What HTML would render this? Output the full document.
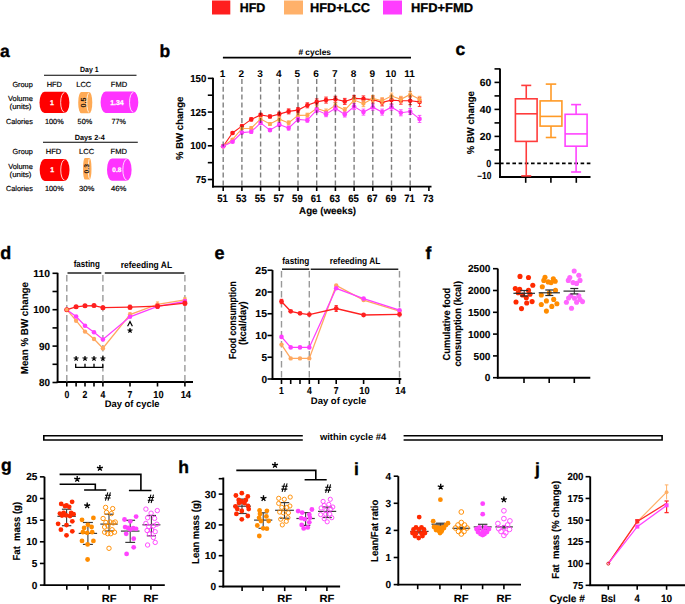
<!DOCTYPE html><html><head><meta charset="utf-8"><style>html,body{margin:0;padding:0;background:#fff;width:685px;height:604px;overflow:hidden}svg{display:block}text{font-family:"Liberation Sans",sans-serif;text-rendering:geometricPrecision}</style></head><body>
<svg width="685" height="604" viewBox="0 0 685 604">
<rect x="212" y="0.5" width="18.3" height="14" fill="#ff1e1e"/>
<text x="239.7" y="12.2" font-size="12.8" font-weight="bold" text-anchor="start" fill="#000" stroke="#000" stroke-width="0.3" textLength="25.6" lengthAdjust="spacingAndGlyphs">HFD</text>
<rect x="284" y="0.5" width="19" height="14" fill="#ffb16a"/>
<text x="310" y="12.2" font-size="12.8" font-weight="bold" text-anchor="start" fill="#000" stroke="#000" stroke-width="0.3" textLength="60" lengthAdjust="spacingAndGlyphs">HFD+LCC</text>
<rect x="383" y="0.5" width="19" height="14" fill="#ff3dff"/>
<text x="411" y="12.2" font-size="12.8" font-weight="bold" text-anchor="start" fill="#000" stroke="#000" stroke-width="0.3" textLength="62" lengthAdjust="spacingAndGlyphs">HFD+FMD</text>
<text x="0" y="57" font-size="17.5" font-weight="bold" text-anchor="start" fill="#000" stroke="#000" stroke-width="0.35">a</text>
<text x="89.3" y="72.4" font-size="7.5" font-weight="bold" text-anchor="middle" fill="#000" textLength="18.6" lengthAdjust="spacingAndGlyphs">Day 1</text>
<line x1="44" y1="75.3" x2="136.5" y2="75.3" stroke="#000" stroke-width="1.1"/>
<text x="32.8" y="86.6" font-size="7.4" font-weight="normal" text-anchor="end" fill="#000" stroke="#000" stroke-width="0.18" textLength="20.4" lengthAdjust="spacingAndGlyphs">Group</text>
<text x="54.3" y="86.6" font-size="7.4" font-weight="normal" text-anchor="middle" fill="#000" stroke="#000" stroke-width="0.18" textLength="15.3" lengthAdjust="spacingAndGlyphs">HFD</text>
<text x="83.8" y="86.6" font-size="7.4" font-weight="normal" text-anchor="middle" fill="#000" stroke="#000" stroke-width="0.18" textLength="15" lengthAdjust="spacingAndGlyphs">LCC</text>
<text x="119" y="86.6" font-size="7.4" font-weight="normal" text-anchor="middle" fill="#000" stroke="#000" stroke-width="0.18" textLength="16.3" lengthAdjust="spacingAndGlyphs">FMD</text>
<text x="32.8" y="100.8" font-size="7.4" font-weight="normal" text-anchor="end" fill="#000" stroke="#000" stroke-width="0.18" textLength="24.8" lengthAdjust="spacingAndGlyphs">Volume</text>
<text x="31.5" y="109.2" font-size="7.4" font-weight="normal" text-anchor="end" fill="#000" stroke="#000" stroke-width="0.18" textLength="22" lengthAdjust="spacingAndGlyphs">(units)</text>
<path d="M44.5,91.8 L64.4,91.8 A5,10.600000000000001 0 0 1 64.4,113 L44.5,113 A5,10.600000000000001 0 0 1 44.5,91.8 Z" fill="#ff0000"/>
<path d="M64.4,92.6 A3.75,9.8 0 0 0 64.4,112.2" stroke="#fff" stroke-width="0.8" fill="none"/>
<text x="51.95" y="104.9" font-size="7" font-weight="bold" text-anchor="middle" fill="#fff" stroke="#fff" stroke-width="0.25">1</text>
<path d="M81.33333333333333,91.9 L89.16666666666667,91.9 A3.133333333333332,10.699999999999996 0 0 1 89.16666666666667,113.3 L81.33333333333333,113.3 A3.133333333333332,10.699999999999996 0 0 1 81.33333333333333,91.9 Z" fill="#ffaa55"/>
<path d="M89.16666666666667,92.7 A2.3499999999999988,9.899999999999995 0 0 0 89.16666666666667,112.5" stroke="#fff" stroke-width="0.8" fill="none"/>
<text x="86.28333333333333" y="102.6" font-size="7.5" font-weight="bold" text-anchor="middle" fill="#111" textLength="10" lengthAdjust="spacingAndGlyphs" transform="rotate(-90 86.28333333333333 102.6)">0.5</text>
<path d="M105.6,91.6 L133.3,91.6 A5,10.700000000000003 0 0 1 133.3,113 L105.6,113 A5,10.700000000000003 0 0 1 105.6,91.6 Z" fill="#ff33ff"/>
<path d="M133.3,92.39999999999999 A3.75,9.900000000000002 0 0 0 133.3,112.2" stroke="#fff" stroke-width="0.8" fill="none"/>
<text x="116.95" y="104.8" font-size="7" font-weight="bold" text-anchor="middle" fill="#fff" stroke="#fff" stroke-width="0.25">1.34</text>
<text x="32.8" y="124" font-size="7.4" font-weight="normal" text-anchor="end" fill="#000" stroke="#000" stroke-width="0.18" textLength="26.8" lengthAdjust="spacingAndGlyphs">Calories</text>
<text x="54.3" y="124" font-size="7.4" font-weight="normal" text-anchor="middle" fill="#000" stroke="#000" stroke-width="0.18" textLength="18.6" lengthAdjust="spacingAndGlyphs">100%</text>
<text x="84.9" y="124" font-size="7.4" font-weight="normal" text-anchor="middle" fill="#000" stroke="#000" stroke-width="0.18" textLength="14.6" lengthAdjust="spacingAndGlyphs">50%</text>
<text x="118.6" y="124" font-size="7.4" font-weight="normal" text-anchor="middle" fill="#000" stroke="#000" stroke-width="0.18" textLength="14.3" lengthAdjust="spacingAndGlyphs">77%</text>
<text x="89.7" y="139.7" font-size="7.5" font-weight="bold" text-anchor="middle" fill="#000" textLength="30" lengthAdjust="spacingAndGlyphs">Days 2-4</text>
<line x1="43" y1="142.2" x2="137.8" y2="142.2" stroke="#000" stroke-width="1.1"/>
<text x="32.8" y="153.7" font-size="7.4" font-weight="normal" text-anchor="end" fill="#000" stroke="#000" stroke-width="0.18" textLength="20.2" lengthAdjust="spacingAndGlyphs">Group</text>
<text x="53.5" y="153.7" font-size="7.4" font-weight="normal" text-anchor="middle" fill="#000" stroke="#000" stroke-width="0.18" textLength="15.5" lengthAdjust="spacingAndGlyphs">HFD</text>
<text x="86.6" y="153.7" font-size="7.4" font-weight="normal" text-anchor="middle" fill="#000" stroke="#000" stroke-width="0.18" textLength="15.2" lengthAdjust="spacingAndGlyphs">LCC</text>
<text x="118.8" y="153.7" font-size="7.4" font-weight="normal" text-anchor="middle" fill="#000" stroke="#000" stroke-width="0.18" textLength="16.4" lengthAdjust="spacingAndGlyphs">FMD</text>
<text x="32.8" y="168.5" font-size="7.4" font-weight="normal" text-anchor="end" fill="#000" stroke="#000" stroke-width="0.18" textLength="24.6" lengthAdjust="spacingAndGlyphs">Volume</text>
<text x="31.5" y="176.5" font-size="7.4" font-weight="normal" text-anchor="end" fill="#000" stroke="#000" stroke-width="0.18" textLength="22" lengthAdjust="spacingAndGlyphs">(units)</text>
<path d="M44.7,159 L64.5,159 A5,10.950000000000003 0 0 1 64.5,180.9 L44.7,180.9 A5,10.950000000000003 0 0 1 44.7,159 Z" fill="#ff0000"/>
<path d="M64.5,159.8 A3.75,10.150000000000002 0 0 0 64.5,180.1" stroke="#fff" stroke-width="0.8" fill="none"/>
<text x="52.1" y="172.45" font-size="7" font-weight="bold" text-anchor="middle" fill="#fff" stroke="#fff" stroke-width="0.25">1</text>
<path d="M84.88888888888889,157.9 L89.61111111111111,157.9 A1.8888888888888888,10.799999999999997 0 0 1 89.61111111111111,179.5 L84.88888888888889,179.5 A1.8888888888888888,10.799999999999997 0 0 1 84.88888888888889,157.9 Z" fill="#ffaa55"/>
<path d="M89.61111111111111,158.70000000000002 A1.4166666666666665,9.999999999999996 0 0 0 89.61111111111111,178.7" stroke="#fff" stroke-width="0.8" fill="none"/>
<text x="88.90555555555555" y="168.7" font-size="7" font-weight="bold" text-anchor="middle" fill="#111" textLength="9.5" lengthAdjust="spacingAndGlyphs" transform="rotate(-90 88.90555555555555 168.7)">0.3</text>
<path d="M112,158.5 L126.6,158.5 A5,11.150000000000006 0 0 1 126.6,180.8 L112,180.8 A5,11.150000000000006 0 0 1 112,158.5 Z" fill="#ff33ff"/>
<path d="M126.6,159.3 A3.75,10.350000000000005 0 0 0 126.6,180.0" stroke="#fff" stroke-width="0.8" fill="none"/>
<text x="116.8" y="172.15" font-size="6.5" font-weight="bold" text-anchor="middle" fill="#fff" stroke="#fff" stroke-width="0.25">0.8</text>
<text x="32.8" y="191.4" font-size="7.4" font-weight="normal" text-anchor="end" fill="#000" stroke="#000" stroke-width="0.18" textLength="26.8" lengthAdjust="spacingAndGlyphs">Calories</text>
<text x="54.3" y="191.4" font-size="7.4" font-weight="normal" text-anchor="middle" fill="#000" stroke="#000" stroke-width="0.18" textLength="18.6" lengthAdjust="spacingAndGlyphs">100%</text>
<text x="86.7" y="191.4" font-size="7.4" font-weight="normal" text-anchor="middle" fill="#000" stroke="#000" stroke-width="0.18" textLength="15.4" lengthAdjust="spacingAndGlyphs">30%</text>
<text x="118.7" y="191.4" font-size="7.4" font-weight="normal" text-anchor="middle" fill="#000" stroke="#000" stroke-width="0.18" textLength="15.4" lengthAdjust="spacingAndGlyphs">46%</text>
<text x="159.5" y="57.4" font-size="17.5" font-weight="bold" text-anchor="start" fill="#000" stroke="#000" stroke-width="0.35">b</text>
<line x1="222.9" y1="57.7" x2="411" y2="57.7" stroke="#000" stroke-width="1.8"/>
<text x="298.4" y="54.6" font-size="8.5" font-weight="bold" text-anchor="start" fill="#000" textLength="32.6" lengthAdjust="spacingAndGlyphs"># cycles</text>
<text x="222.6" y="76.8" font-size="9.8" font-weight="bold" text-anchor="middle" fill="#000" textLength="5.6" lengthAdjust="spacingAndGlyphs">1</text>
<text x="241.29999999999998" y="76.8" font-size="9.8" font-weight="bold" text-anchor="middle" fill="#000" textLength="5.6" lengthAdjust="spacingAndGlyphs">2</text>
<text x="259.99999999999994" y="76.8" font-size="9.8" font-weight="bold" text-anchor="middle" fill="#000" textLength="5.6" lengthAdjust="spacingAndGlyphs">3</text>
<text x="278.69999999999993" y="76.8" font-size="9.8" font-weight="bold" text-anchor="middle" fill="#000" textLength="5.6" lengthAdjust="spacingAndGlyphs">4</text>
<text x="297.4" y="76.8" font-size="9.8" font-weight="bold" text-anchor="middle" fill="#000" textLength="5.6" lengthAdjust="spacingAndGlyphs">5</text>
<text x="316.09999999999997" y="76.8" font-size="9.8" font-weight="bold" text-anchor="middle" fill="#000" textLength="5.6" lengthAdjust="spacingAndGlyphs">6</text>
<text x="334.79999999999995" y="76.8" font-size="9.8" font-weight="bold" text-anchor="middle" fill="#000" textLength="5.6" lengthAdjust="spacingAndGlyphs">7</text>
<text x="353.5" y="76.8" font-size="9.8" font-weight="bold" text-anchor="middle" fill="#000" textLength="5.6" lengthAdjust="spacingAndGlyphs">8</text>
<text x="372.19999999999993" y="76.8" font-size="9.8" font-weight="bold" text-anchor="middle" fill="#000" textLength="5.6" lengthAdjust="spacingAndGlyphs">9</text>
<text x="390.9" y="76.8" font-size="9.8" font-weight="bold" text-anchor="middle" fill="#000" textLength="10.6" lengthAdjust="spacingAndGlyphs">10</text>
<text x="409.59999999999997" y="76.8" font-size="9.8" font-weight="bold" text-anchor="middle" fill="#000" textLength="10.6" lengthAdjust="spacingAndGlyphs">11</text>
<line x1="213" y1="77.8" x2="213" y2="187.4" stroke="#000" stroke-width="1.9"/>
<line x1="212" y1="186.6" x2="431.5" y2="186.6" stroke="#000" stroke-width="1.9"/>
<line x1="207.8" y1="78.35000000000001" x2="213" y2="78.35000000000001" stroke="#000" stroke-width="1.6"/>
<text x="206.3" y="81.95" font-size="10.2" font-weight="bold" text-anchor="end" fill="#000" stroke="#000" stroke-width="0.12" textLength="16.1" lengthAdjust="spacingAndGlyphs">150</text>
<line x1="207.8" y1="112.07500000000002" x2="213" y2="112.07500000000002" stroke="#000" stroke-width="1.6"/>
<text x="206.3" y="115.67500000000001" font-size="10.2" font-weight="bold" text-anchor="end" fill="#000" stroke="#000" stroke-width="0.12" textLength="16.1" lengthAdjust="spacingAndGlyphs">125</text>
<line x1="207.8" y1="145.8" x2="213" y2="145.8" stroke="#000" stroke-width="1.6"/>
<text x="206.3" y="149.4" font-size="10.2" font-weight="bold" text-anchor="end" fill="#000" stroke="#000" stroke-width="0.12" textLength="16.1" lengthAdjust="spacingAndGlyphs">100</text>
<line x1="207.8" y1="179.525" x2="213" y2="179.525" stroke="#000" stroke-width="1.6"/>
<text x="206.3" y="183.125" font-size="10.2" font-weight="bold" text-anchor="end" fill="#000" stroke="#000" stroke-width="0.12" textLength="10.6" lengthAdjust="spacingAndGlyphs">75</text>
<line x1="207.8" y1="95.2125" x2="213" y2="95.2125" stroke="#000" stroke-width="1.6"/>
<line x1="207.8" y1="128.9375" x2="213" y2="128.9375" stroke="#000" stroke-width="1.6"/>
<line x1="207.8" y1="162.66250000000002" x2="213" y2="162.66250000000002" stroke="#000" stroke-width="1.6"/>
<line x1="223.2" y1="186.6" x2="223.2" y2="191" stroke="#000" stroke-width="1.6"/>
<text x="222.6" y="202.3" font-size="10.4" font-weight="bold" text-anchor="middle" fill="#000" stroke="#000" stroke-width="0.12" textLength="10.6" lengthAdjust="spacingAndGlyphs">51</text>
<line x1="241.89999999999998" y1="186.6" x2="241.89999999999998" y2="191" stroke="#000" stroke-width="1.6"/>
<text x="241.29999999999998" y="202.3" font-size="10.4" font-weight="bold" text-anchor="middle" fill="#000" stroke="#000" stroke-width="0.12" textLength="10.6" lengthAdjust="spacingAndGlyphs">53</text>
<line x1="260.59999999999997" y1="186.6" x2="260.59999999999997" y2="191" stroke="#000" stroke-width="1.6"/>
<text x="259.99999999999994" y="202.3" font-size="10.4" font-weight="bold" text-anchor="middle" fill="#000" stroke="#000" stroke-width="0.12" textLength="10.6" lengthAdjust="spacingAndGlyphs">55</text>
<line x1="279.29999999999995" y1="186.6" x2="279.29999999999995" y2="191" stroke="#000" stroke-width="1.6"/>
<text x="278.69999999999993" y="202.3" font-size="10.4" font-weight="bold" text-anchor="middle" fill="#000" stroke="#000" stroke-width="0.12" textLength="10.6" lengthAdjust="spacingAndGlyphs">57</text>
<line x1="298.0" y1="186.6" x2="298.0" y2="191" stroke="#000" stroke-width="1.6"/>
<text x="297.4" y="202.3" font-size="10.4" font-weight="bold" text-anchor="middle" fill="#000" stroke="#000" stroke-width="0.12" textLength="10.6" lengthAdjust="spacingAndGlyphs">59</text>
<line x1="316.7" y1="186.6" x2="316.7" y2="191" stroke="#000" stroke-width="1.6"/>
<text x="316.09999999999997" y="202.3" font-size="10.4" font-weight="bold" text-anchor="middle" fill="#000" stroke="#000" stroke-width="0.12" textLength="10.6" lengthAdjust="spacingAndGlyphs">61</text>
<line x1="335.4" y1="186.6" x2="335.4" y2="191" stroke="#000" stroke-width="1.6"/>
<text x="334.79999999999995" y="202.3" font-size="10.4" font-weight="bold" text-anchor="middle" fill="#000" stroke="#000" stroke-width="0.12" textLength="10.6" lengthAdjust="spacingAndGlyphs">63</text>
<line x1="354.1" y1="186.6" x2="354.1" y2="191" stroke="#000" stroke-width="1.6"/>
<text x="353.5" y="202.3" font-size="10.4" font-weight="bold" text-anchor="middle" fill="#000" stroke="#000" stroke-width="0.12" textLength="10.6" lengthAdjust="spacingAndGlyphs">65</text>
<line x1="372.79999999999995" y1="186.6" x2="372.79999999999995" y2="191" stroke="#000" stroke-width="1.6"/>
<text x="372.19999999999993" y="202.3" font-size="10.4" font-weight="bold" text-anchor="middle" fill="#000" stroke="#000" stroke-width="0.12" textLength="10.6" lengthAdjust="spacingAndGlyphs">67</text>
<line x1="391.5" y1="186.6" x2="391.5" y2="191" stroke="#000" stroke-width="1.6"/>
<text x="390.9" y="202.3" font-size="10.4" font-weight="bold" text-anchor="middle" fill="#000" stroke="#000" stroke-width="0.12" textLength="10.6" lengthAdjust="spacingAndGlyphs">69</text>
<line x1="410.2" y1="186.6" x2="410.2" y2="191" stroke="#000" stroke-width="1.6"/>
<text x="409.59999999999997" y="202.3" font-size="10.4" font-weight="bold" text-anchor="middle" fill="#000" stroke="#000" stroke-width="0.12" textLength="10.6" lengthAdjust="spacingAndGlyphs">71</text>
<line x1="428.9" y1="186.6" x2="428.9" y2="191" stroke="#000" stroke-width="1.6"/>
<text x="428.29999999999995" y="202.3" font-size="10.4" font-weight="bold" text-anchor="middle" fill="#000" stroke="#000" stroke-width="0.12" textLength="10.6" lengthAdjust="spacingAndGlyphs">73</text>
<text x="327.6" y="214.3" font-size="10" font-weight="bold" text-anchor="middle" fill="#000" stroke="#000" stroke-width="0.12" textLength="57" lengthAdjust="spacingAndGlyphs">Age (weeks)</text>
<text x="183" y="128.3" font-size="10" font-weight="bold" text-anchor="middle" fill="#000" stroke="#000" stroke-width="0.12" textLength="63.4" lengthAdjust="spacingAndGlyphs" transform="rotate(-90 183 128.3)">% BW change</text>
<polyline points="223.2,146.2 232.5,133 241.9,126.1 251.2,119.4 260.6,114.9 269.9,116.5 279.3,114.1 288.6,111.4 298.0,110.1 307.3,105.3 316.7,101.9 326.0,100.1 335.4,99.3 344.8,101.4 354.1,98.4 363.4,98.9 372.8,99.6 382.1,102.4 391.5,100.1 400.9,100.7 410.2,100.7 419.5,101.9" fill="none" stroke="#ff1a1a" stroke-width="1.1"/>
<circle cx="223.2" cy="146.2" r="2.3" fill="#ff1a1a" stroke="none" stroke-width="0"/>
<line x1="232.54999999999998" y1="132" x2="232.54999999999998" y2="134" stroke="#ff1a1a" stroke-width="0.9"/>
<line x1="230.74999999999997" y1="132" x2="234.35" y2="132" stroke="#ff1a1a" stroke-width="0.9"/>
<line x1="230.74999999999997" y1="134" x2="234.35" y2="134" stroke="#ff1a1a" stroke-width="0.9"/>
<circle cx="232.54999999999998" cy="133" r="2.3" fill="#ff1a1a" stroke="none" stroke-width="0"/>
<line x1="241.89999999999998" y1="125.1" x2="241.89999999999998" y2="127.1" stroke="#ff1a1a" stroke-width="0.9"/>
<line x1="240.09999999999997" y1="125.1" x2="243.7" y2="125.1" stroke="#ff1a1a" stroke-width="0.9"/>
<line x1="240.09999999999997" y1="127.1" x2="243.7" y2="127.1" stroke="#ff1a1a" stroke-width="0.9"/>
<circle cx="241.89999999999998" cy="126.1" r="2.3" fill="#ff1a1a" stroke="none" stroke-width="0"/>
<line x1="251.25" y1="117.9" x2="251.25" y2="120.9" stroke="#ff1a1a" stroke-width="0.9"/>
<line x1="249.45" y1="117.9" x2="253.05" y2="117.9" stroke="#ff1a1a" stroke-width="0.9"/>
<line x1="249.45" y1="120.9" x2="253.05" y2="120.9" stroke="#ff1a1a" stroke-width="0.9"/>
<circle cx="251.25" cy="119.4" r="2.3" fill="#ff1a1a" stroke="none" stroke-width="0"/>
<line x1="260.59999999999997" y1="113.4" x2="260.59999999999997" y2="116.4" stroke="#ff1a1a" stroke-width="0.9"/>
<line x1="258.79999999999995" y1="113.4" x2="262.4" y2="113.4" stroke="#ff1a1a" stroke-width="0.9"/>
<line x1="258.79999999999995" y1="116.4" x2="262.4" y2="116.4" stroke="#ff1a1a" stroke-width="0.9"/>
<circle cx="260.59999999999997" cy="114.9" r="2.3" fill="#ff1a1a" stroke="none" stroke-width="0"/>
<line x1="269.95" y1="115.0" x2="269.95" y2="118.0" stroke="#ff1a1a" stroke-width="0.9"/>
<line x1="268.15" y1="115.0" x2="271.75" y2="115.0" stroke="#ff1a1a" stroke-width="0.9"/>
<line x1="268.15" y1="118.0" x2="271.75" y2="118.0" stroke="#ff1a1a" stroke-width="0.9"/>
<circle cx="269.95" cy="116.5" r="2.3" fill="#ff1a1a" stroke="none" stroke-width="0"/>
<line x1="279.29999999999995" y1="112.1" x2="279.29999999999995" y2="116.1" stroke="#ff1a1a" stroke-width="0.9"/>
<line x1="277.49999999999994" y1="112.1" x2="281.09999999999997" y2="112.1" stroke="#ff1a1a" stroke-width="0.9"/>
<line x1="277.49999999999994" y1="116.1" x2="281.09999999999997" y2="116.1" stroke="#ff1a1a" stroke-width="0.9"/>
<circle cx="279.29999999999995" cy="114.1" r="2.3" fill="#ff1a1a" stroke="none" stroke-width="0"/>
<line x1="288.65" y1="108.9" x2="288.65" y2="113.9" stroke="#ff1a1a" stroke-width="0.9"/>
<line x1="286.84999999999997" y1="108.9" x2="290.45" y2="108.9" stroke="#ff1a1a" stroke-width="0.9"/>
<line x1="286.84999999999997" y1="113.9" x2="290.45" y2="113.9" stroke="#ff1a1a" stroke-width="0.9"/>
<circle cx="288.65" cy="111.4" r="2.3" fill="#ff1a1a" stroke="none" stroke-width="0"/>
<line x1="298.0" y1="107.6" x2="298.0" y2="112.6" stroke="#ff1a1a" stroke-width="0.9"/>
<line x1="296.2" y1="107.6" x2="299.8" y2="107.6" stroke="#ff1a1a" stroke-width="0.9"/>
<line x1="296.2" y1="112.6" x2="299.8" y2="112.6" stroke="#ff1a1a" stroke-width="0.9"/>
<circle cx="298.0" cy="110.1" r="2.3" fill="#ff1a1a" stroke="none" stroke-width="0"/>
<line x1="307.34999999999997" y1="102.8" x2="307.34999999999997" y2="107.8" stroke="#ff1a1a" stroke-width="0.9"/>
<line x1="305.54999999999995" y1="102.8" x2="309.15" y2="102.8" stroke="#ff1a1a" stroke-width="0.9"/>
<line x1="305.54999999999995" y1="107.8" x2="309.15" y2="107.8" stroke="#ff1a1a" stroke-width="0.9"/>
<circle cx="307.34999999999997" cy="105.3" r="2.3" fill="#ff1a1a" stroke="none" stroke-width="0"/>
<line x1="316.7" y1="98.9" x2="316.7" y2="104.9" stroke="#ff1a1a" stroke-width="0.9"/>
<line x1="314.9" y1="98.9" x2="318.5" y2="98.9" stroke="#ff1a1a" stroke-width="0.9"/>
<line x1="314.9" y1="104.9" x2="318.5" y2="104.9" stroke="#ff1a1a" stroke-width="0.9"/>
<circle cx="316.7" cy="101.9" r="2.3" fill="#ff1a1a" stroke="none" stroke-width="0"/>
<line x1="326.04999999999995" y1="97.1" x2="326.04999999999995" y2="103.1" stroke="#ff1a1a" stroke-width="0.9"/>
<line x1="324.24999999999994" y1="97.1" x2="327.84999999999997" y2="97.1" stroke="#ff1a1a" stroke-width="0.9"/>
<line x1="324.24999999999994" y1="103.1" x2="327.84999999999997" y2="103.1" stroke="#ff1a1a" stroke-width="0.9"/>
<circle cx="326.04999999999995" cy="100.1" r="2.3" fill="#ff1a1a" stroke="none" stroke-width="0"/>
<line x1="335.4" y1="96.3" x2="335.4" y2="102.3" stroke="#ff1a1a" stroke-width="0.9"/>
<line x1="333.59999999999997" y1="96.3" x2="337.2" y2="96.3" stroke="#ff1a1a" stroke-width="0.9"/>
<line x1="333.59999999999997" y1="102.3" x2="337.2" y2="102.3" stroke="#ff1a1a" stroke-width="0.9"/>
<circle cx="335.4" cy="99.3" r="2.3" fill="#ff1a1a" stroke="none" stroke-width="0"/>
<line x1="344.75" y1="98.4" x2="344.75" y2="104.4" stroke="#ff1a1a" stroke-width="0.9"/>
<line x1="342.95" y1="98.4" x2="346.55" y2="98.4" stroke="#ff1a1a" stroke-width="0.9"/>
<line x1="342.95" y1="104.4" x2="346.55" y2="104.4" stroke="#ff1a1a" stroke-width="0.9"/>
<circle cx="344.75" cy="101.4" r="2.3" fill="#ff1a1a" stroke="none" stroke-width="0"/>
<line x1="354.1" y1="95.4" x2="354.1" y2="101.4" stroke="#ff1a1a" stroke-width="0.9"/>
<line x1="352.3" y1="95.4" x2="355.90000000000003" y2="95.4" stroke="#ff1a1a" stroke-width="0.9"/>
<line x1="352.3" y1="101.4" x2="355.90000000000003" y2="101.4" stroke="#ff1a1a" stroke-width="0.9"/>
<circle cx="354.1" cy="98.4" r="2.3" fill="#ff1a1a" stroke="none" stroke-width="0"/>
<line x1="363.45" y1="95.9" x2="363.45" y2="101.9" stroke="#ff1a1a" stroke-width="0.9"/>
<line x1="361.65" y1="95.9" x2="365.25" y2="95.9" stroke="#ff1a1a" stroke-width="0.9"/>
<line x1="361.65" y1="101.9" x2="365.25" y2="101.9" stroke="#ff1a1a" stroke-width="0.9"/>
<circle cx="363.45" cy="98.9" r="2.3" fill="#ff1a1a" stroke="none" stroke-width="0"/>
<line x1="372.79999999999995" y1="96.1" x2="372.79999999999995" y2="103.1" stroke="#ff1a1a" stroke-width="0.9"/>
<line x1="370.99999999999994" y1="96.1" x2="374.59999999999997" y2="96.1" stroke="#ff1a1a" stroke-width="0.9"/>
<line x1="370.99999999999994" y1="103.1" x2="374.59999999999997" y2="103.1" stroke="#ff1a1a" stroke-width="0.9"/>
<circle cx="372.79999999999995" cy="99.6" r="2.3" fill="#ff1a1a" stroke="none" stroke-width="0"/>
<line x1="382.15" y1="98.9" x2="382.15" y2="105.9" stroke="#ff1a1a" stroke-width="0.9"/>
<line x1="380.34999999999997" y1="98.9" x2="383.95" y2="98.9" stroke="#ff1a1a" stroke-width="0.9"/>
<line x1="380.34999999999997" y1="105.9" x2="383.95" y2="105.9" stroke="#ff1a1a" stroke-width="0.9"/>
<circle cx="382.15" cy="102.4" r="2.3" fill="#ff1a1a" stroke="none" stroke-width="0"/>
<line x1="391.5" y1="96.1" x2="391.5" y2="104.1" stroke="#ff1a1a" stroke-width="0.9"/>
<line x1="389.7" y1="96.1" x2="393.3" y2="96.1" stroke="#ff1a1a" stroke-width="0.9"/>
<line x1="389.7" y1="104.1" x2="393.3" y2="104.1" stroke="#ff1a1a" stroke-width="0.9"/>
<circle cx="391.5" cy="100.1" r="2.3" fill="#ff1a1a" stroke="none" stroke-width="0"/>
<line x1="400.85" y1="97.2" x2="400.85" y2="104.2" stroke="#ff1a1a" stroke-width="0.9"/>
<line x1="399.05" y1="97.2" x2="402.65000000000003" y2="97.2" stroke="#ff1a1a" stroke-width="0.9"/>
<line x1="399.05" y1="104.2" x2="402.65000000000003" y2="104.2" stroke="#ff1a1a" stroke-width="0.9"/>
<circle cx="400.85" cy="100.7" r="2.3" fill="#ff1a1a" stroke="none" stroke-width="0"/>
<line x1="410.2" y1="96.7" x2="410.2" y2="104.7" stroke="#ff1a1a" stroke-width="0.9"/>
<line x1="408.4" y1="96.7" x2="412.0" y2="96.7" stroke="#ff1a1a" stroke-width="0.9"/>
<line x1="408.4" y1="104.7" x2="412.0" y2="104.7" stroke="#ff1a1a" stroke-width="0.9"/>
<circle cx="410.2" cy="100.7" r="2.3" fill="#ff1a1a" stroke="none" stroke-width="0"/>
<line x1="419.54999999999995" y1="97.4" x2="419.54999999999995" y2="106.4" stroke="#ff1a1a" stroke-width="0.9"/>
<line x1="417.74999999999994" y1="97.4" x2="421.34999999999997" y2="97.4" stroke="#ff1a1a" stroke-width="0.9"/>
<line x1="417.74999999999994" y1="106.4" x2="421.34999999999997" y2="106.4" stroke="#ff1a1a" stroke-width="0.9"/>
<circle cx="419.54999999999995" cy="101.9" r="2.3" fill="#ff1a1a" stroke="none" stroke-width="0"/>
<polyline points="223.2,146.2 232.5,139.5 241.9,128.5 251.2,128.2 260.6,118.9 269.9,124 279.3,119.2 288.6,122.9 298.0,115.4 307.3,115.2 316.7,108.4 326.0,111.5 335.4,105.4 344.8,110.1 354.1,100.1 363.4,103.7 372.8,98.4 382.1,100.7 391.5,96.1 400.9,99.3 410.2,94.4 419.5,99.3" fill="none" stroke="#ffa650" stroke-width="1.1"/>
<circle cx="223.2" cy="146.2" r="2.1" fill="#ffa650" stroke="none" stroke-width="0"/>
<line x1="232.54999999999998" y1="138.5" x2="232.54999999999998" y2="140.5" stroke="#ffa650" stroke-width="0.9"/>
<line x1="230.74999999999997" y1="138.5" x2="234.35" y2="138.5" stroke="#ffa650" stroke-width="0.9"/>
<line x1="230.74999999999997" y1="140.5" x2="234.35" y2="140.5" stroke="#ffa650" stroke-width="0.9"/>
<circle cx="232.54999999999998" cy="139.5" r="2.1" fill="#ffa650" stroke="none" stroke-width="0"/>
<line x1="241.89999999999998" y1="127.5" x2="241.89999999999998" y2="129.5" stroke="#ffa650" stroke-width="0.9"/>
<line x1="240.09999999999997" y1="127.5" x2="243.7" y2="127.5" stroke="#ffa650" stroke-width="0.9"/>
<line x1="240.09999999999997" y1="129.5" x2="243.7" y2="129.5" stroke="#ffa650" stroke-width="0.9"/>
<circle cx="241.89999999999998" cy="128.5" r="2.1" fill="#ffa650" stroke="none" stroke-width="0"/>
<line x1="251.25" y1="126.69999999999999" x2="251.25" y2="129.7" stroke="#ffa650" stroke-width="0.9"/>
<line x1="249.45" y1="126.69999999999999" x2="253.05" y2="126.69999999999999" stroke="#ffa650" stroke-width="0.9"/>
<line x1="249.45" y1="129.7" x2="253.05" y2="129.7" stroke="#ffa650" stroke-width="0.9"/>
<circle cx="251.25" cy="128.2" r="2.1" fill="#ffa650" stroke="none" stroke-width="0"/>
<line x1="260.59999999999997" y1="117.4" x2="260.59999999999997" y2="120.4" stroke="#ffa650" stroke-width="0.9"/>
<line x1="258.79999999999995" y1="117.4" x2="262.4" y2="117.4" stroke="#ffa650" stroke-width="0.9"/>
<line x1="258.79999999999995" y1="120.4" x2="262.4" y2="120.4" stroke="#ffa650" stroke-width="0.9"/>
<circle cx="260.59999999999997" cy="118.9" r="2.1" fill="#ffa650" stroke="none" stroke-width="0"/>
<line x1="269.95" y1="122.5" x2="269.95" y2="125.5" stroke="#ffa650" stroke-width="0.9"/>
<line x1="268.15" y1="122.5" x2="271.75" y2="122.5" stroke="#ffa650" stroke-width="0.9"/>
<line x1="268.15" y1="125.5" x2="271.75" y2="125.5" stroke="#ffa650" stroke-width="0.9"/>
<circle cx="269.95" cy="124" r="2.1" fill="#ffa650" stroke="none" stroke-width="0"/>
<line x1="279.29999999999995" y1="117.2" x2="279.29999999999995" y2="121.2" stroke="#ffa650" stroke-width="0.9"/>
<line x1="277.49999999999994" y1="117.2" x2="281.09999999999997" y2="117.2" stroke="#ffa650" stroke-width="0.9"/>
<line x1="277.49999999999994" y1="121.2" x2="281.09999999999997" y2="121.2" stroke="#ffa650" stroke-width="0.9"/>
<circle cx="279.29999999999995" cy="119.2" r="2.1" fill="#ffa650" stroke="none" stroke-width="0"/>
<line x1="288.65" y1="120.9" x2="288.65" y2="124.9" stroke="#ffa650" stroke-width="0.9"/>
<line x1="286.84999999999997" y1="120.9" x2="290.45" y2="120.9" stroke="#ffa650" stroke-width="0.9"/>
<line x1="286.84999999999997" y1="124.9" x2="290.45" y2="124.9" stroke="#ffa650" stroke-width="0.9"/>
<circle cx="288.65" cy="122.9" r="2.1" fill="#ffa650" stroke="none" stroke-width="0"/>
<line x1="298.0" y1="113.4" x2="298.0" y2="117.4" stroke="#ffa650" stroke-width="0.9"/>
<line x1="296.2" y1="113.4" x2="299.8" y2="113.4" stroke="#ffa650" stroke-width="0.9"/>
<line x1="296.2" y1="117.4" x2="299.8" y2="117.4" stroke="#ffa650" stroke-width="0.9"/>
<circle cx="298.0" cy="115.4" r="2.1" fill="#ffa650" stroke="none" stroke-width="0"/>
<line x1="307.34999999999997" y1="113.2" x2="307.34999999999997" y2="117.2" stroke="#ffa650" stroke-width="0.9"/>
<line x1="305.54999999999995" y1="113.2" x2="309.15" y2="113.2" stroke="#ffa650" stroke-width="0.9"/>
<line x1="305.54999999999995" y1="117.2" x2="309.15" y2="117.2" stroke="#ffa650" stroke-width="0.9"/>
<circle cx="307.34999999999997" cy="115.2" r="2.1" fill="#ffa650" stroke="none" stroke-width="0"/>
<line x1="316.7" y1="105.9" x2="316.7" y2="110.9" stroke="#ffa650" stroke-width="0.9"/>
<line x1="314.9" y1="105.9" x2="318.5" y2="105.9" stroke="#ffa650" stroke-width="0.9"/>
<line x1="314.9" y1="110.9" x2="318.5" y2="110.9" stroke="#ffa650" stroke-width="0.9"/>
<circle cx="316.7" cy="108.4" r="2.1" fill="#ffa650" stroke="none" stroke-width="0"/>
<line x1="326.04999999999995" y1="109.0" x2="326.04999999999995" y2="114.0" stroke="#ffa650" stroke-width="0.9"/>
<line x1="324.24999999999994" y1="109.0" x2="327.84999999999997" y2="109.0" stroke="#ffa650" stroke-width="0.9"/>
<line x1="324.24999999999994" y1="114.0" x2="327.84999999999997" y2="114.0" stroke="#ffa650" stroke-width="0.9"/>
<circle cx="326.04999999999995" cy="111.5" r="2.1" fill="#ffa650" stroke="none" stroke-width="0"/>
<line x1="335.4" y1="102.9" x2="335.4" y2="107.9" stroke="#ffa650" stroke-width="0.9"/>
<line x1="333.59999999999997" y1="102.9" x2="337.2" y2="102.9" stroke="#ffa650" stroke-width="0.9"/>
<line x1="333.59999999999997" y1="107.9" x2="337.2" y2="107.9" stroke="#ffa650" stroke-width="0.9"/>
<circle cx="335.4" cy="105.4" r="2.1" fill="#ffa650" stroke="none" stroke-width="0"/>
<line x1="344.75" y1="107.6" x2="344.75" y2="112.6" stroke="#ffa650" stroke-width="0.9"/>
<line x1="342.95" y1="107.6" x2="346.55" y2="107.6" stroke="#ffa650" stroke-width="0.9"/>
<line x1="342.95" y1="112.6" x2="346.55" y2="112.6" stroke="#ffa650" stroke-width="0.9"/>
<circle cx="344.75" cy="110.1" r="2.1" fill="#ffa650" stroke="none" stroke-width="0"/>
<line x1="354.1" y1="97.1" x2="354.1" y2="103.1" stroke="#ffa650" stroke-width="0.9"/>
<line x1="352.3" y1="97.1" x2="355.90000000000003" y2="97.1" stroke="#ffa650" stroke-width="0.9"/>
<line x1="352.3" y1="103.1" x2="355.90000000000003" y2="103.1" stroke="#ffa650" stroke-width="0.9"/>
<circle cx="354.1" cy="100.1" r="2.1" fill="#ffa650" stroke="none" stroke-width="0"/>
<line x1="363.45" y1="100.7" x2="363.45" y2="106.7" stroke="#ffa650" stroke-width="0.9"/>
<line x1="361.65" y1="100.7" x2="365.25" y2="100.7" stroke="#ffa650" stroke-width="0.9"/>
<line x1="361.65" y1="106.7" x2="365.25" y2="106.7" stroke="#ffa650" stroke-width="0.9"/>
<circle cx="363.45" cy="103.7" r="2.1" fill="#ffa650" stroke="none" stroke-width="0"/>
<line x1="372.79999999999995" y1="95.4" x2="372.79999999999995" y2="101.4" stroke="#ffa650" stroke-width="0.9"/>
<line x1="370.99999999999994" y1="95.4" x2="374.59999999999997" y2="95.4" stroke="#ffa650" stroke-width="0.9"/>
<line x1="370.99999999999994" y1="101.4" x2="374.59999999999997" y2="101.4" stroke="#ffa650" stroke-width="0.9"/>
<circle cx="372.79999999999995" cy="98.4" r="2.1" fill="#ffa650" stroke="none" stroke-width="0"/>
<line x1="382.15" y1="97.7" x2="382.15" y2="103.7" stroke="#ffa650" stroke-width="0.9"/>
<line x1="380.34999999999997" y1="97.7" x2="383.95" y2="97.7" stroke="#ffa650" stroke-width="0.9"/>
<line x1="380.34999999999997" y1="103.7" x2="383.95" y2="103.7" stroke="#ffa650" stroke-width="0.9"/>
<circle cx="382.15" cy="100.7" r="2.1" fill="#ffa650" stroke="none" stroke-width="0"/>
<line x1="391.5" y1="93.1" x2="391.5" y2="99.1" stroke="#ffa650" stroke-width="0.9"/>
<line x1="389.7" y1="93.1" x2="393.3" y2="93.1" stroke="#ffa650" stroke-width="0.9"/>
<line x1="389.7" y1="99.1" x2="393.3" y2="99.1" stroke="#ffa650" stroke-width="0.9"/>
<circle cx="391.5" cy="96.1" r="2.1" fill="#ffa650" stroke="none" stroke-width="0"/>
<line x1="400.85" y1="96.3" x2="400.85" y2="102.3" stroke="#ffa650" stroke-width="0.9"/>
<line x1="399.05" y1="96.3" x2="402.65000000000003" y2="96.3" stroke="#ffa650" stroke-width="0.9"/>
<line x1="399.05" y1="102.3" x2="402.65000000000003" y2="102.3" stroke="#ffa650" stroke-width="0.9"/>
<circle cx="400.85" cy="99.3" r="2.1" fill="#ffa650" stroke="none" stroke-width="0"/>
<line x1="410.2" y1="91.4" x2="410.2" y2="97.4" stroke="#ffa650" stroke-width="0.9"/>
<line x1="408.4" y1="91.4" x2="412.0" y2="91.4" stroke="#ffa650" stroke-width="0.9"/>
<line x1="408.4" y1="97.4" x2="412.0" y2="97.4" stroke="#ffa650" stroke-width="0.9"/>
<circle cx="410.2" cy="94.4" r="2.1" fill="#ffa650" stroke="none" stroke-width="0"/>
<line x1="419.54999999999995" y1="96.3" x2="419.54999999999995" y2="102.3" stroke="#ffa650" stroke-width="0.9"/>
<line x1="417.74999999999994" y1="96.3" x2="421.34999999999997" y2="96.3" stroke="#ffa650" stroke-width="0.9"/>
<line x1="417.74999999999994" y1="102.3" x2="421.34999999999997" y2="102.3" stroke="#ffa650" stroke-width="0.9"/>
<circle cx="419.54999999999995" cy="99.3" r="2.1" fill="#ffa650" stroke="none" stroke-width="0"/>
<polyline points="223.2,146.2 232.5,141.7 241.9,132.6 251.2,131.8 260.6,122.9 269.9,130.1 279.3,124.5 288.6,128.1 298.0,119.4 307.3,120.2 316.7,110.1 326.0,114.2 335.4,108.4 344.8,114.5 354.1,106.6 363.4,112.1 372.8,107.2 382.1,112.1 391.5,107.2 400.9,112.8 410.2,111.5 419.5,118.9" fill="none" stroke="#ff3dff" stroke-width="1.1"/>
<circle cx="223.2" cy="146.2" r="2.3" fill="#ff3dff" stroke="none" stroke-width="0"/>
<line x1="232.54999999999998" y1="140.7" x2="232.54999999999998" y2="142.7" stroke="#ff3dff" stroke-width="0.9"/>
<line x1="230.74999999999997" y1="140.7" x2="234.35" y2="140.7" stroke="#ff3dff" stroke-width="0.9"/>
<line x1="230.74999999999997" y1="142.7" x2="234.35" y2="142.7" stroke="#ff3dff" stroke-width="0.9"/>
<circle cx="232.54999999999998" cy="141.7" r="2.3" fill="#ff3dff" stroke="none" stroke-width="0"/>
<line x1="241.89999999999998" y1="131.6" x2="241.89999999999998" y2="133.6" stroke="#ff3dff" stroke-width="0.9"/>
<line x1="240.09999999999997" y1="131.6" x2="243.7" y2="131.6" stroke="#ff3dff" stroke-width="0.9"/>
<line x1="240.09999999999997" y1="133.6" x2="243.7" y2="133.6" stroke="#ff3dff" stroke-width="0.9"/>
<circle cx="241.89999999999998" cy="132.6" r="2.3" fill="#ff3dff" stroke="none" stroke-width="0"/>
<line x1="251.25" y1="130.3" x2="251.25" y2="133.3" stroke="#ff3dff" stroke-width="0.9"/>
<line x1="249.45" y1="130.3" x2="253.05" y2="130.3" stroke="#ff3dff" stroke-width="0.9"/>
<line x1="249.45" y1="133.3" x2="253.05" y2="133.3" stroke="#ff3dff" stroke-width="0.9"/>
<circle cx="251.25" cy="131.8" r="2.3" fill="#ff3dff" stroke="none" stroke-width="0"/>
<line x1="260.59999999999997" y1="121.4" x2="260.59999999999997" y2="124.4" stroke="#ff3dff" stroke-width="0.9"/>
<line x1="258.79999999999995" y1="121.4" x2="262.4" y2="121.4" stroke="#ff3dff" stroke-width="0.9"/>
<line x1="258.79999999999995" y1="124.4" x2="262.4" y2="124.4" stroke="#ff3dff" stroke-width="0.9"/>
<circle cx="260.59999999999997" cy="122.9" r="2.3" fill="#ff3dff" stroke="none" stroke-width="0"/>
<line x1="269.95" y1="128.6" x2="269.95" y2="131.6" stroke="#ff3dff" stroke-width="0.9"/>
<line x1="268.15" y1="128.6" x2="271.75" y2="128.6" stroke="#ff3dff" stroke-width="0.9"/>
<line x1="268.15" y1="131.6" x2="271.75" y2="131.6" stroke="#ff3dff" stroke-width="0.9"/>
<circle cx="269.95" cy="130.1" r="2.3" fill="#ff3dff" stroke="none" stroke-width="0"/>
<line x1="279.29999999999995" y1="122.5" x2="279.29999999999995" y2="126.5" stroke="#ff3dff" stroke-width="0.9"/>
<line x1="277.49999999999994" y1="122.5" x2="281.09999999999997" y2="122.5" stroke="#ff3dff" stroke-width="0.9"/>
<line x1="277.49999999999994" y1="126.5" x2="281.09999999999997" y2="126.5" stroke="#ff3dff" stroke-width="0.9"/>
<circle cx="279.29999999999995" cy="124.5" r="2.3" fill="#ff3dff" stroke="none" stroke-width="0"/>
<line x1="288.65" y1="126.1" x2="288.65" y2="130.1" stroke="#ff3dff" stroke-width="0.9"/>
<line x1="286.84999999999997" y1="126.1" x2="290.45" y2="126.1" stroke="#ff3dff" stroke-width="0.9"/>
<line x1="286.84999999999997" y1="130.1" x2="290.45" y2="130.1" stroke="#ff3dff" stroke-width="0.9"/>
<circle cx="288.65" cy="128.1" r="2.3" fill="#ff3dff" stroke="none" stroke-width="0"/>
<line x1="298.0" y1="117.4" x2="298.0" y2="121.4" stroke="#ff3dff" stroke-width="0.9"/>
<line x1="296.2" y1="117.4" x2="299.8" y2="117.4" stroke="#ff3dff" stroke-width="0.9"/>
<line x1="296.2" y1="121.4" x2="299.8" y2="121.4" stroke="#ff3dff" stroke-width="0.9"/>
<circle cx="298.0" cy="119.4" r="2.3" fill="#ff3dff" stroke="none" stroke-width="0"/>
<line x1="307.34999999999997" y1="118.2" x2="307.34999999999997" y2="122.2" stroke="#ff3dff" stroke-width="0.9"/>
<line x1="305.54999999999995" y1="118.2" x2="309.15" y2="118.2" stroke="#ff3dff" stroke-width="0.9"/>
<line x1="305.54999999999995" y1="122.2" x2="309.15" y2="122.2" stroke="#ff3dff" stroke-width="0.9"/>
<circle cx="307.34999999999997" cy="120.2" r="2.3" fill="#ff3dff" stroke="none" stroke-width="0"/>
<line x1="316.7" y1="107.6" x2="316.7" y2="112.6" stroke="#ff3dff" stroke-width="0.9"/>
<line x1="314.9" y1="107.6" x2="318.5" y2="107.6" stroke="#ff3dff" stroke-width="0.9"/>
<line x1="314.9" y1="112.6" x2="318.5" y2="112.6" stroke="#ff3dff" stroke-width="0.9"/>
<circle cx="316.7" cy="110.1" r="2.3" fill="#ff3dff" stroke="none" stroke-width="0"/>
<line x1="326.04999999999995" y1="111.7" x2="326.04999999999995" y2="116.7" stroke="#ff3dff" stroke-width="0.9"/>
<line x1="324.24999999999994" y1="111.7" x2="327.84999999999997" y2="111.7" stroke="#ff3dff" stroke-width="0.9"/>
<line x1="324.24999999999994" y1="116.7" x2="327.84999999999997" y2="116.7" stroke="#ff3dff" stroke-width="0.9"/>
<circle cx="326.04999999999995" cy="114.2" r="2.3" fill="#ff3dff" stroke="none" stroke-width="0"/>
<line x1="335.4" y1="105.9" x2="335.4" y2="110.9" stroke="#ff3dff" stroke-width="0.9"/>
<line x1="333.59999999999997" y1="105.9" x2="337.2" y2="105.9" stroke="#ff3dff" stroke-width="0.9"/>
<line x1="333.59999999999997" y1="110.9" x2="337.2" y2="110.9" stroke="#ff3dff" stroke-width="0.9"/>
<circle cx="335.4" cy="108.4" r="2.3" fill="#ff3dff" stroke="none" stroke-width="0"/>
<line x1="344.75" y1="112.0" x2="344.75" y2="117.0" stroke="#ff3dff" stroke-width="0.9"/>
<line x1="342.95" y1="112.0" x2="346.55" y2="112.0" stroke="#ff3dff" stroke-width="0.9"/>
<line x1="342.95" y1="117.0" x2="346.55" y2="117.0" stroke="#ff3dff" stroke-width="0.9"/>
<circle cx="344.75" cy="114.5" r="2.3" fill="#ff3dff" stroke="none" stroke-width="0"/>
<line x1="354.1" y1="103.6" x2="354.1" y2="109.6" stroke="#ff3dff" stroke-width="0.9"/>
<line x1="352.3" y1="103.6" x2="355.90000000000003" y2="103.6" stroke="#ff3dff" stroke-width="0.9"/>
<line x1="352.3" y1="109.6" x2="355.90000000000003" y2="109.6" stroke="#ff3dff" stroke-width="0.9"/>
<circle cx="354.1" cy="106.6" r="2.3" fill="#ff3dff" stroke="none" stroke-width="0"/>
<line x1="363.45" y1="109.1" x2="363.45" y2="115.1" stroke="#ff3dff" stroke-width="0.9"/>
<line x1="361.65" y1="109.1" x2="365.25" y2="109.1" stroke="#ff3dff" stroke-width="0.9"/>
<line x1="361.65" y1="115.1" x2="365.25" y2="115.1" stroke="#ff3dff" stroke-width="0.9"/>
<circle cx="363.45" cy="112.1" r="2.3" fill="#ff3dff" stroke="none" stroke-width="0"/>
<line x1="372.79999999999995" y1="104.2" x2="372.79999999999995" y2="110.2" stroke="#ff3dff" stroke-width="0.9"/>
<line x1="370.99999999999994" y1="104.2" x2="374.59999999999997" y2="104.2" stroke="#ff3dff" stroke-width="0.9"/>
<line x1="370.99999999999994" y1="110.2" x2="374.59999999999997" y2="110.2" stroke="#ff3dff" stroke-width="0.9"/>
<circle cx="372.79999999999995" cy="107.2" r="2.3" fill="#ff3dff" stroke="none" stroke-width="0"/>
<line x1="382.15" y1="109.1" x2="382.15" y2="115.1" stroke="#ff3dff" stroke-width="0.9"/>
<line x1="380.34999999999997" y1="109.1" x2="383.95" y2="109.1" stroke="#ff3dff" stroke-width="0.9"/>
<line x1="380.34999999999997" y1="115.1" x2="383.95" y2="115.1" stroke="#ff3dff" stroke-width="0.9"/>
<circle cx="382.15" cy="112.1" r="2.3" fill="#ff3dff" stroke="none" stroke-width="0"/>
<line x1="391.5" y1="104.2" x2="391.5" y2="110.2" stroke="#ff3dff" stroke-width="0.9"/>
<line x1="389.7" y1="104.2" x2="393.3" y2="104.2" stroke="#ff3dff" stroke-width="0.9"/>
<line x1="389.7" y1="110.2" x2="393.3" y2="110.2" stroke="#ff3dff" stroke-width="0.9"/>
<circle cx="391.5" cy="107.2" r="2.3" fill="#ff3dff" stroke="none" stroke-width="0"/>
<line x1="400.85" y1="109.8" x2="400.85" y2="115.8" stroke="#ff3dff" stroke-width="0.9"/>
<line x1="399.05" y1="109.8" x2="402.65000000000003" y2="109.8" stroke="#ff3dff" stroke-width="0.9"/>
<line x1="399.05" y1="115.8" x2="402.65000000000003" y2="115.8" stroke="#ff3dff" stroke-width="0.9"/>
<circle cx="400.85" cy="112.8" r="2.3" fill="#ff3dff" stroke="none" stroke-width="0"/>
<line x1="410.2" y1="108.5" x2="410.2" y2="114.5" stroke="#ff3dff" stroke-width="0.9"/>
<line x1="408.4" y1="108.5" x2="412.0" y2="108.5" stroke="#ff3dff" stroke-width="0.9"/>
<line x1="408.4" y1="114.5" x2="412.0" y2="114.5" stroke="#ff3dff" stroke-width="0.9"/>
<circle cx="410.2" cy="111.5" r="2.3" fill="#ff3dff" stroke="none" stroke-width="0"/>
<line x1="419.54999999999995" y1="115.4" x2="419.54999999999995" y2="122.4" stroke="#ff3dff" stroke-width="0.9"/>
<line x1="417.74999999999994" y1="115.4" x2="421.34999999999997" y2="115.4" stroke="#ff3dff" stroke-width="0.9"/>
<line x1="417.74999999999994" y1="122.4" x2="421.34999999999997" y2="122.4" stroke="#ff3dff" stroke-width="0.9"/>
<circle cx="419.54999999999995" cy="118.9" r="2.3" fill="#ff3dff" stroke="none" stroke-width="0"/>
<line x1="223.2" y1="79" x2="223.2" y2="186" stroke="rgba(0,0,0,0.5)" stroke-width="1.4" stroke-dasharray="5 2.8"/>
<line x1="241.89999999999998" y1="79" x2="241.89999999999998" y2="186" stroke="rgba(0,0,0,0.5)" stroke-width="1.4" stroke-dasharray="5 2.8"/>
<line x1="260.59999999999997" y1="79" x2="260.59999999999997" y2="186" stroke="rgba(0,0,0,0.5)" stroke-width="1.4" stroke-dasharray="5 2.8"/>
<line x1="279.29999999999995" y1="79" x2="279.29999999999995" y2="186" stroke="rgba(0,0,0,0.5)" stroke-width="1.4" stroke-dasharray="5 2.8"/>
<line x1="298.0" y1="79" x2="298.0" y2="186" stroke="rgba(0,0,0,0.5)" stroke-width="1.4" stroke-dasharray="5 2.8"/>
<line x1="316.7" y1="79" x2="316.7" y2="186" stroke="rgba(0,0,0,0.5)" stroke-width="1.4" stroke-dasharray="5 2.8"/>
<line x1="335.4" y1="79" x2="335.4" y2="186" stroke="rgba(0,0,0,0.5)" stroke-width="1.4" stroke-dasharray="5 2.8"/>
<line x1="354.1" y1="79" x2="354.1" y2="186" stroke="rgba(0,0,0,0.5)" stroke-width="1.4" stroke-dasharray="5 2.8"/>
<line x1="372.79999999999995" y1="79" x2="372.79999999999995" y2="186" stroke="rgba(0,0,0,0.5)" stroke-width="1.4" stroke-dasharray="5 2.8"/>
<line x1="391.5" y1="79" x2="391.5" y2="186" stroke="rgba(0,0,0,0.5)" stroke-width="1.4" stroke-dasharray="5 2.8"/>
<line x1="410.2" y1="79" x2="410.2" y2="186" stroke="rgba(0,0,0,0.5)" stroke-width="1.4" stroke-dasharray="5 2.8"/>
<text x="455.4" y="54.6" font-size="17.5" font-weight="bold" text-anchor="start" fill="#000" stroke="#000" stroke-width="0.35">c</text>
<line x1="500" y1="68.6" x2="500" y2="177.8" stroke="#000" stroke-width="1.9"/>
<line x1="499" y1="177" x2="590.5" y2="177" stroke="#000" stroke-width="1.9"/>
<line x1="494.5" y1="82.4" x2="500" y2="82.4" stroke="#000" stroke-width="1.6"/>
<text x="491.3" y="86.0" font-size="10.2" font-weight="bold" text-anchor="end" fill="#000" stroke="#000" stroke-width="0.12" textLength="11.5" lengthAdjust="spacingAndGlyphs">60</text>
<line x1="494.5" y1="109.4" x2="500" y2="109.4" stroke="#000" stroke-width="1.6"/>
<text x="491.3" y="113.0" font-size="10.2" font-weight="bold" text-anchor="end" fill="#000" stroke="#000" stroke-width="0.12" textLength="11.5" lengthAdjust="spacingAndGlyphs">40</text>
<line x1="494.5" y1="136.4" x2="500" y2="136.4" stroke="#000" stroke-width="1.6"/>
<text x="491.3" y="140.0" font-size="10.2" font-weight="bold" text-anchor="end" fill="#000" stroke="#000" stroke-width="0.12" textLength="11.5" lengthAdjust="spacingAndGlyphs">20</text>
<line x1="494.5" y1="163.4" x2="500" y2="163.4" stroke="#000" stroke-width="1.6"/>
<text x="491.3" y="167.0" font-size="10.2" font-weight="bold" text-anchor="end" fill="#000" stroke="#000" stroke-width="0.12" textLength="5.0" lengthAdjust="spacingAndGlyphs">0</text>
<text x="491.3" y="179.1" font-size="10.2" font-weight="bold" text-anchor="end" fill="#000" stroke="#000" stroke-width="0.12" textLength="14" lengthAdjust="spacingAndGlyphs">–10</text>
<line x1="494.5" y1="68.9" x2="500" y2="68.9" stroke="#000" stroke-width="1.6"/>
<line x1="494.5" y1="95.9" x2="500" y2="95.9" stroke="#000" stroke-width="1.6"/>
<line x1="494.5" y1="122.9" x2="500" y2="122.9" stroke="#000" stroke-width="1.6"/>
<line x1="494.5" y1="149.9" x2="500" y2="149.9" stroke="#000" stroke-width="1.6"/>
<line x1="525.7" y1="177" x2="525.7" y2="182.8" stroke="#000" stroke-width="1.6"/>
<line x1="550.9" y1="177" x2="550.9" y2="182.8" stroke="#000" stroke-width="1.6"/>
<line x1="576.3" y1="177" x2="576.3" y2="182.8" stroke="#000" stroke-width="1.6"/>
<line x1="500" y1="163.4" x2="591" y2="163.4" stroke="#000" stroke-width="1.8" stroke-dasharray="3.6 2.6"/>
<text x="473.8" y="122.7" font-size="10" font-weight="bold" text-anchor="middle" fill="#000" stroke="#000" stroke-width="0.12" textLength="63.1" lengthAdjust="spacingAndGlyphs" transform="rotate(-90 473.8 122.7)">% BW change</text>
<line x1="526.25" y1="85.4" x2="526.25" y2="98.8" stroke="#ff3c3c" stroke-width="1.6"/>
<line x1="526.25" y1="141.4" x2="526.25" y2="175.9" stroke="#ff3c3c" stroke-width="1.6"/>
<line x1="521.25" y1="85.4" x2="531.25" y2="85.4" stroke="#ff3c3c" stroke-width="1.6"/>
<line x1="521.25" y1="175.9" x2="531.25" y2="175.9" stroke="#ff3c3c" stroke-width="1.6"/>
<rect x="515.4" y="98.8" width="21.700000000000045" height="42.60000000000001" fill="none" stroke="#ff3c3c" stroke-width="1.6"/>
<line x1="515.4" y1="113.8" x2="537.1" y2="113.8" stroke="#ff3c3c" stroke-width="1.6"/>
<line x1="551.0" y1="84.1" x2="551.0" y2="100.9" stroke="#ff9a26" stroke-width="1.6"/>
<line x1="551.0" y1="126.1" x2="551.0" y2="137.5" stroke="#ff9a26" stroke-width="1.6"/>
<line x1="545.75" y1="84.1" x2="556.25" y2="84.1" stroke="#ff9a26" stroke-width="1.6"/>
<line x1="545.75" y1="137.5" x2="556.25" y2="137.5" stroke="#ff9a26" stroke-width="1.6"/>
<rect x="540.1" y="100.9" width="21.799999999999955" height="25.19999999999999" fill="none" stroke="#ff9a26" stroke-width="1.6"/>
<line x1="540.1" y1="116.4" x2="561.9" y2="116.4" stroke="#ff9a26" stroke-width="1.6"/>
<line x1="576.1" y1="104.6" x2="576.1" y2="114.3" stroke="#ff44ff" stroke-width="1.6"/>
<line x1="576.1" y1="146.2" x2="576.1" y2="172" stroke="#ff44ff" stroke-width="1.6"/>
<line x1="571.1" y1="104.6" x2="581.1" y2="104.6" stroke="#ff44ff" stroke-width="1.6"/>
<line x1="571.1" y1="172" x2="581.1" y2="172" stroke="#ff44ff" stroke-width="1.6"/>
<rect x="565.1" y="114.3" width="22.0" height="31.89999999999999" fill="none" stroke="#ff44ff" stroke-width="1.6"/>
<line x1="565.1" y1="133.9" x2="587.1" y2="133.9" stroke="#ff44ff" stroke-width="1.6"/>
<text x="0.3" y="258.9" font-size="18" font-weight="bold" text-anchor="start" fill="#000" stroke="#000" stroke-width="0.35">d</text>
<line x1="57.6" y1="272.8" x2="57.6" y2="382.8" stroke="#000" stroke-width="1.9"/>
<line x1="56.7" y1="382" x2="193" y2="382" stroke="#000" stroke-width="1.9"/>
<line x1="52.5" y1="273.3" x2="57.6" y2="273.3" stroke="#000" stroke-width="1.6"/>
<text x="50" y="276.90000000000003" font-size="10.2" font-weight="bold" text-anchor="end" fill="#000" stroke="#000" stroke-width="0.12" textLength="16.7" lengthAdjust="spacingAndGlyphs">110</text>
<line x1="52.5" y1="309.7" x2="57.6" y2="309.7" stroke="#000" stroke-width="1.6"/>
<text x="50" y="313.3" font-size="10.2" font-weight="bold" text-anchor="end" fill="#000" stroke="#000" stroke-width="0.12" textLength="16.7" lengthAdjust="spacingAndGlyphs">100</text>
<line x1="52.5" y1="346.09999999999997" x2="57.6" y2="346.09999999999997" stroke="#000" stroke-width="1.6"/>
<text x="50" y="349.7" font-size="10.2" font-weight="bold" text-anchor="end" fill="#000" stroke="#000" stroke-width="0.12" textLength="11" lengthAdjust="spacingAndGlyphs">90</text>
<line x1="52.5" y1="382.5" x2="57.6" y2="382.5" stroke="#000" stroke-width="1.6"/>
<text x="50" y="386.1" font-size="10.2" font-weight="bold" text-anchor="end" fill="#000" stroke="#000" stroke-width="0.12" textLength="11" lengthAdjust="spacingAndGlyphs">80</text>
<line x1="52.5" y1="291.5" x2="57.6" y2="291.5" stroke="#000" stroke-width="1.6"/>
<line x1="52.5" y1="327.9" x2="57.6" y2="327.9" stroke="#000" stroke-width="1.6"/>
<line x1="52.5" y1="364.3" x2="57.6" y2="364.3" stroke="#000" stroke-width="1.6"/>
<line x1="66.8" y1="382" x2="66.8" y2="386.5" stroke="#000" stroke-width="1.6"/>
<line x1="76.1" y1="382" x2="76.1" y2="386.5" stroke="#000" stroke-width="1.6"/>
<line x1="85" y1="382" x2="85" y2="386.5" stroke="#000" stroke-width="1.6"/>
<line x1="94" y1="382" x2="94" y2="386.5" stroke="#000" stroke-width="1.6"/>
<line x1="102.9" y1="382" x2="102.9" y2="386.5" stroke="#000" stroke-width="1.6"/>
<line x1="130" y1="382" x2="130" y2="386.5" stroke="#000" stroke-width="1.6"/>
<line x1="157.5" y1="382" x2="157.5" y2="386.5" stroke="#000" stroke-width="1.6"/>
<line x1="184.9" y1="382" x2="184.9" y2="386.5" stroke="#000" stroke-width="1.6"/>
<text x="66.8" y="397.6" font-size="10.2" font-weight="bold" text-anchor="middle" fill="#000" stroke="#000" stroke-width="0.12" textLength="4.8" lengthAdjust="spacingAndGlyphs">0</text>
<text x="85" y="397.6" font-size="10.2" font-weight="bold" text-anchor="middle" fill="#000" stroke="#000" stroke-width="0.12" textLength="4.8" lengthAdjust="spacingAndGlyphs">2</text>
<text x="102.9" y="397.6" font-size="10.2" font-weight="bold" text-anchor="middle" fill="#000" stroke="#000" stroke-width="0.12" textLength="4.8" lengthAdjust="spacingAndGlyphs">4</text>
<text x="130" y="397.6" font-size="10.2" font-weight="bold" text-anchor="middle" fill="#000" stroke="#000" stroke-width="0.12" textLength="4.8" lengthAdjust="spacingAndGlyphs">7</text>
<text x="158.4" y="397.6" font-size="10.2" font-weight="bold" text-anchor="middle" fill="#000" stroke="#000" stroke-width="0.12" textLength="10.3" lengthAdjust="spacingAndGlyphs">10</text>
<text x="185.8" y="397.6" font-size="10.2" font-weight="bold" text-anchor="middle" fill="#000" stroke="#000" stroke-width="0.12" textLength="10.3" lengthAdjust="spacingAndGlyphs">14</text>
<text x="28.1" y="328.1" font-size="10.2" font-weight="bold" text-anchor="middle" fill="#000" stroke="#000" stroke-width="0.12" textLength="92.2" lengthAdjust="spacingAndGlyphs" transform="rotate(-90 28.1 328.1)">Mean % BW change</text>
<text x="86.8" y="267.4" font-size="9.4" font-weight="bold" text-anchor="middle" fill="#000" textLength="26.2" lengthAdjust="spacingAndGlyphs">fasting</text>
<text x="146.4" y="267.6" font-size="9.4" font-weight="bold" text-anchor="middle" fill="#000" textLength="51.4" lengthAdjust="spacingAndGlyphs">refeeding AL</text>
<line x1="67.5" y1="273" x2="101.3" y2="273" stroke="#222" stroke-width="1.6"/>
<line x1="104.8" y1="273" x2="184.3" y2="273" stroke="#222" stroke-width="1.6"/>
<line x1="66.8" y1="275" x2="66.8" y2="382" stroke="#999" stroke-width="1.4" stroke-dasharray="6.5 3.5"/>
<line x1="102.9" y1="275" x2="102.9" y2="382" stroke="#999" stroke-width="1.4" stroke-dasharray="6.5 3.5"/>
<line x1="184.9" y1="275" x2="184.9" y2="382" stroke="#999" stroke-width="1.4" stroke-dasharray="6.5 3.5"/>
<polyline points="66.8,309.7 76.1,320.7 85,331.6 94,339 102.9,348.2 130,314.6 157.5,304.4 184.9,299.9" fill="none" stroke="#ffa860" stroke-width="1.3"/>
<circle cx="66.8" cy="309.7" r="2.2" fill="#ffa860" stroke="none" stroke-width="0"/>
<circle cx="76.1" cy="320.7" r="2.2" fill="#ffa860" stroke="none" stroke-width="0"/>
<circle cx="85" cy="331.6" r="2.2" fill="#ffa860" stroke="none" stroke-width="0"/>
<circle cx="94" cy="339" r="2.2" fill="#ffa860" stroke="none" stroke-width="0"/>
<line x1="102.9" y1="346.7" x2="102.9" y2="349.7" stroke="#ffa860" stroke-width="0.9"/>
<line x1="101.30000000000001" y1="346.7" x2="104.5" y2="346.7" stroke="#ffa860" stroke-width="0.9"/>
<line x1="101.30000000000001" y1="349.7" x2="104.5" y2="349.7" stroke="#ffa860" stroke-width="0.9"/>
<circle cx="102.9" cy="348.2" r="2.2" fill="#ffa860" stroke="none" stroke-width="0"/>
<line x1="130" y1="312.6" x2="130" y2="316.6" stroke="#ffa860" stroke-width="0.9"/>
<line x1="128.4" y1="312.6" x2="131.6" y2="312.6" stroke="#ffa860" stroke-width="0.9"/>
<line x1="128.4" y1="316.6" x2="131.6" y2="316.6" stroke="#ffa860" stroke-width="0.9"/>
<circle cx="130" cy="314.6" r="2.2" fill="#ffa860" stroke="none" stroke-width="0"/>
<line x1="157.5" y1="301.9" x2="157.5" y2="306.9" stroke="#ffa860" stroke-width="0.9"/>
<line x1="155.9" y1="301.9" x2="159.1" y2="301.9" stroke="#ffa860" stroke-width="0.9"/>
<line x1="155.9" y1="306.9" x2="159.1" y2="306.9" stroke="#ffa860" stroke-width="0.9"/>
<circle cx="157.5" cy="304.4" r="2.2" fill="#ffa860" stroke="none" stroke-width="0"/>
<line x1="184.9" y1="297.4" x2="184.9" y2="302.4" stroke="#ffa860" stroke-width="0.9"/>
<line x1="183.3" y1="297.4" x2="186.5" y2="297.4" stroke="#ffa860" stroke-width="0.9"/>
<line x1="183.3" y1="302.4" x2="186.5" y2="302.4" stroke="#ffa860" stroke-width="0.9"/>
<circle cx="184.9" cy="299.9" r="2.2" fill="#ffa860" stroke="none" stroke-width="0"/>
<polyline points="66.8,309.7 76.1,316.5 85,325.7 94,332.2 102.9,339.5 130,316.8 157.5,306.4 184.9,301.5" fill="none" stroke="#ff3dff" stroke-width="1.3"/>
<circle cx="66.8" cy="309.7" r="2.3" fill="#ff3dff" stroke="none" stroke-width="0"/>
<circle cx="76.1" cy="316.5" r="2.3" fill="#ff3dff" stroke="none" stroke-width="0"/>
<circle cx="85" cy="325.7" r="2.3" fill="#ff3dff" stroke="none" stroke-width="0"/>
<circle cx="94" cy="332.2" r="2.3" fill="#ff3dff" stroke="none" stroke-width="0"/>
<circle cx="102.9" cy="339.5" r="2.3" fill="#ff3dff" stroke="none" stroke-width="0"/>
<circle cx="130" cy="316.8" r="2.3" fill="#ff3dff" stroke="none" stroke-width="0"/>
<line x1="157.5" y1="304.4" x2="157.5" y2="308.4" stroke="#ff3dff" stroke-width="0.9"/>
<line x1="155.9" y1="304.4" x2="159.1" y2="304.4" stroke="#ff3dff" stroke-width="0.9"/>
<line x1="155.9" y1="308.4" x2="159.1" y2="308.4" stroke="#ff3dff" stroke-width="0.9"/>
<circle cx="157.5" cy="306.4" r="2.3" fill="#ff3dff" stroke="none" stroke-width="0"/>
<line x1="184.9" y1="299.5" x2="184.9" y2="303.5" stroke="#ff3dff" stroke-width="0.9"/>
<line x1="183.3" y1="299.5" x2="186.5" y2="299.5" stroke="#ff3dff" stroke-width="0.9"/>
<line x1="183.3" y1="303.5" x2="186.5" y2="303.5" stroke="#ff3dff" stroke-width="0.9"/>
<circle cx="184.9" cy="301.5" r="2.3" fill="#ff3dff" stroke="none" stroke-width="0"/>
<polyline points="66.8,309.7 76.1,306.8 85,305.8 94,305.6 102.9,307.7 130,307.2 157.5,306.2 184.9,303.2" fill="none" stroke="#ff2020" stroke-width="1.3"/>
<circle cx="66.8" cy="309.7" r="2.5" fill="#ff2020" stroke="none" stroke-width="0"/>
<line x1="76.1" y1="305.6" x2="76.1" y2="308.0" stroke="#ff2020" stroke-width="0.9"/>
<line x1="74.5" y1="305.6" x2="77.69999999999999" y2="305.6" stroke="#ff2020" stroke-width="0.9"/>
<line x1="74.5" y1="308.0" x2="77.69999999999999" y2="308.0" stroke="#ff2020" stroke-width="0.9"/>
<circle cx="76.1" cy="306.8" r="2.5" fill="#ff2020" stroke="none" stroke-width="0"/>
<line x1="85" y1="304.8" x2="85" y2="306.8" stroke="#ff2020" stroke-width="0.9"/>
<line x1="83.4" y1="304.8" x2="86.6" y2="304.8" stroke="#ff2020" stroke-width="0.9"/>
<line x1="83.4" y1="306.8" x2="86.6" y2="306.8" stroke="#ff2020" stroke-width="0.9"/>
<circle cx="85" cy="305.8" r="2.5" fill="#ff2020" stroke="none" stroke-width="0"/>
<line x1="94" y1="304.40000000000003" x2="94" y2="306.8" stroke="#ff2020" stroke-width="0.9"/>
<line x1="92.4" y1="304.40000000000003" x2="95.6" y2="304.40000000000003" stroke="#ff2020" stroke-width="0.9"/>
<line x1="92.4" y1="306.8" x2="95.6" y2="306.8" stroke="#ff2020" stroke-width="0.9"/>
<circle cx="94" cy="305.6" r="2.5" fill="#ff2020" stroke="none" stroke-width="0"/>
<line x1="102.9" y1="306.2" x2="102.9" y2="309.2" stroke="#ff2020" stroke-width="0.9"/>
<line x1="101.30000000000001" y1="306.2" x2="104.5" y2="306.2" stroke="#ff2020" stroke-width="0.9"/>
<line x1="101.30000000000001" y1="309.2" x2="104.5" y2="309.2" stroke="#ff2020" stroke-width="0.9"/>
<circle cx="102.9" cy="307.7" r="2.5" fill="#ff2020" stroke="none" stroke-width="0"/>
<line x1="130" y1="305.2" x2="130" y2="309.2" stroke="#ff2020" stroke-width="0.9"/>
<line x1="128.4" y1="305.2" x2="131.6" y2="305.2" stroke="#ff2020" stroke-width="0.9"/>
<line x1="128.4" y1="309.2" x2="131.6" y2="309.2" stroke="#ff2020" stroke-width="0.9"/>
<circle cx="130" cy="307.2" r="2.5" fill="#ff2020" stroke="none" stroke-width="0"/>
<line x1="157.5" y1="304.2" x2="157.5" y2="308.2" stroke="#ff2020" stroke-width="0.9"/>
<line x1="155.9" y1="304.2" x2="159.1" y2="304.2" stroke="#ff2020" stroke-width="0.9"/>
<line x1="155.9" y1="308.2" x2="159.1" y2="308.2" stroke="#ff2020" stroke-width="0.9"/>
<circle cx="157.5" cy="306.2" r="2.5" fill="#ff2020" stroke="none" stroke-width="0"/>
<line x1="184.9" y1="301.2" x2="184.9" y2="305.2" stroke="#ff2020" stroke-width="0.9"/>
<line x1="183.3" y1="301.2" x2="186.5" y2="301.2" stroke="#ff2020" stroke-width="0.9"/>
<line x1="183.3" y1="305.2" x2="186.5" y2="305.2" stroke="#ff2020" stroke-width="0.9"/>
<circle cx="184.9" cy="303.2" r="2.5" fill="#ff2020" stroke="none" stroke-width="0"/>
<circle cx="66.8" cy="309.7" r="1.9" fill="#ffa860" stroke="none" stroke-width="0"/>
<path d="M76.10,358.50 L76.10,355.90 M76.10,358.50 L78.57,357.70 M76.10,358.50 L77.63,360.60 M76.10,358.50 L74.57,360.60 M76.10,358.50 L73.63,357.70 " stroke="#000" stroke-width="1.2" stroke-linecap="butt" fill="none"/>
<path d="M85.00,358.50 L85.00,355.90 M85.00,358.50 L87.47,357.70 M85.00,358.50 L86.53,360.60 M85.00,358.50 L83.47,360.60 M85.00,358.50 L82.53,357.70 " stroke="#000" stroke-width="1.2" stroke-linecap="butt" fill="none"/>
<path d="M94.00,358.50 L94.00,355.90 M94.00,358.50 L96.47,357.70 M94.00,358.50 L95.53,360.60 M94.00,358.50 L92.47,360.60 M94.00,358.50 L91.53,357.70 " stroke="#000" stroke-width="1.2" stroke-linecap="butt" fill="none"/>
<path d="M102.90,358.50 L102.90,355.90 M102.90,358.50 L105.37,357.70 M102.90,358.50 L104.43,360.60 M102.90,358.50 L101.37,360.60 M102.90,358.50 L100.43,357.70 " stroke="#000" stroke-width="1.2" stroke-linecap="butt" fill="none"/>
<path d="M75.7,363.7 L75.7,367.3 L102.8,367.3 L102.8,363.7 M85,367.3 L85,363.7 M94,367.3 L94,363.7" stroke="#000" stroke-width="1.3" fill="none"/>
<path d="M127.6,326.2 L130,321.6 L132.4,326.2" stroke="#000" stroke-width="1.2" fill="none"/>
<path d="M130.00,330.60 L130.00,328.00 M130.00,330.60 L132.47,329.80 M130.00,330.60 L131.53,332.70 M130.00,330.60 L128.47,332.70 M130.00,330.60 L127.53,329.80 " stroke="#000" stroke-width="1.2" stroke-linecap="butt" fill="none"/>
<text x="214.6" y="259.2" font-size="18" font-weight="bold" text-anchor="start" fill="#000" stroke="#000" stroke-width="0.35">e</text>
<line x1="272.5" y1="270.1" x2="272.5" y2="379.8" stroke="#000" stroke-width="1.9"/>
<line x1="271.6" y1="379" x2="401.3" y2="379" stroke="#000" stroke-width="1.9"/>
<line x1="267.5" y1="270.25" x2="272.5" y2="270.25" stroke="#000" stroke-width="1.6"/>
<text x="267" y="273.85" font-size="10.2" font-weight="bold" text-anchor="end" fill="#000" stroke="#000" stroke-width="0.12" textLength="11.7" lengthAdjust="spacingAndGlyphs">25</text>
<line x1="267.5" y1="292.0" x2="272.5" y2="292.0" stroke="#000" stroke-width="1.6"/>
<text x="267" y="295.6" font-size="10.2" font-weight="bold" text-anchor="end" fill="#000" stroke="#000" stroke-width="0.12" textLength="11.7" lengthAdjust="spacingAndGlyphs">20</text>
<line x1="267.5" y1="313.75" x2="272.5" y2="313.75" stroke="#000" stroke-width="1.6"/>
<text x="267" y="317.35" font-size="10.2" font-weight="bold" text-anchor="end" fill="#000" stroke="#000" stroke-width="0.12" textLength="11.7" lengthAdjust="spacingAndGlyphs">15</text>
<line x1="267.5" y1="335.5" x2="272.5" y2="335.5" stroke="#000" stroke-width="1.6"/>
<text x="267" y="339.1" font-size="10.2" font-weight="bold" text-anchor="end" fill="#000" stroke="#000" stroke-width="0.12" textLength="11.7" lengthAdjust="spacingAndGlyphs">10</text>
<line x1="267.5" y1="357.25" x2="272.5" y2="357.25" stroke="#000" stroke-width="1.6"/>
<text x="267" y="360.85" font-size="10.2" font-weight="bold" text-anchor="end" fill="#000" stroke="#000" stroke-width="0.12" textLength="5.6" lengthAdjust="spacingAndGlyphs">5</text>
<line x1="267.5" y1="379.0" x2="272.5" y2="379.0" stroke="#000" stroke-width="1.6"/>
<text x="267" y="382.6" font-size="10.2" font-weight="bold" text-anchor="end" fill="#000" stroke="#000" stroke-width="0.12" textLength="5.6" lengthAdjust="spacingAndGlyphs">0</text>
<line x1="281.5" y1="379" x2="281.5" y2="384" stroke="#000" stroke-width="1.6"/>
<line x1="290.7" y1="379" x2="290.7" y2="384" stroke="#000" stroke-width="1.6"/>
<line x1="300" y1="379" x2="300" y2="384" stroke="#000" stroke-width="1.6"/>
<line x1="309.3" y1="379" x2="309.3" y2="384" stroke="#000" stroke-width="1.6"/>
<line x1="318.7" y1="379" x2="318.7" y2="384" stroke="#000" stroke-width="1.6"/>
<line x1="336.2" y1="379" x2="336.2" y2="384" stroke="#000" stroke-width="1.6"/>
<line x1="363.6" y1="379" x2="363.6" y2="384" stroke="#000" stroke-width="1.6"/>
<line x1="399.5" y1="379" x2="399.5" y2="384" stroke="#000" stroke-width="1.6"/>
<text x="281.5" y="394.3" font-size="10.2" font-weight="bold" text-anchor="middle" fill="#000" stroke="#000" stroke-width="0.12" textLength="4.8" lengthAdjust="spacingAndGlyphs">1</text>
<text x="309.3" y="394.3" font-size="10.2" font-weight="bold" text-anchor="middle" fill="#000" stroke="#000" stroke-width="0.12" textLength="4.8" lengthAdjust="spacingAndGlyphs">4</text>
<text x="336.2" y="394.3" font-size="10.2" font-weight="bold" text-anchor="middle" fill="#000" stroke="#000" stroke-width="0.12" textLength="4.8" lengthAdjust="spacingAndGlyphs">7</text>
<text x="364.5" y="394.3" font-size="10.2" font-weight="bold" text-anchor="middle" fill="#000" stroke="#000" stroke-width="0.12" textLength="10.3" lengthAdjust="spacingAndGlyphs">10</text>
<text x="400.4" y="394.3" font-size="10.2" font-weight="bold" text-anchor="middle" fill="#000" stroke="#000" stroke-width="0.12" textLength="10.3" lengthAdjust="spacingAndGlyphs">14</text>
<text x="235.6" y="320.2" font-size="10.2" font-weight="bold" text-anchor="middle" fill="#000" stroke="#000" stroke-width="0.12" textLength="77.8" lengthAdjust="spacingAndGlyphs" transform="rotate(-90 235.6 320.2)">Food consumption</text>
<text x="246.5" y="323.1" font-size="10.2" font-weight="bold" text-anchor="middle" fill="#000" stroke="#000" stroke-width="0.12" textLength="43.6" lengthAdjust="spacingAndGlyphs" transform="rotate(-90 246.5 323.1)">(kcal/day)</text>
<text x="295.8" y="263.6" font-size="9.4" font-weight="bold" text-anchor="middle" fill="#000" textLength="26.9" lengthAdjust="spacingAndGlyphs">fasting</text>
<text x="355" y="263.6" font-size="9.4" font-weight="bold" text-anchor="middle" fill="#000" textLength="50.5" lengthAdjust="spacingAndGlyphs">refeeding AL</text>
<line x1="282" y1="269.2" x2="309.3" y2="269.2" stroke="#222" stroke-width="1.6"/>
<line x1="310.7" y1="269.2" x2="398.3" y2="269.2" stroke="#222" stroke-width="1.6"/>
<text x="338.5" y="404.2" font-size="9.6" font-weight="bold" text-anchor="middle" fill="#000" textLength="55.4" lengthAdjust="spacingAndGlyphs">Day of cycle</text>
<line x1="281.5" y1="271" x2="281.5" y2="379" stroke="#999" stroke-width="1.4" stroke-dasharray="6.5 3.5"/>
<line x1="309.3" y1="271" x2="309.3" y2="379" stroke="#999" stroke-width="1.4" stroke-dasharray="6.5 3.5"/>
<line x1="399.5" y1="271" x2="399.5" y2="379" stroke="#999" stroke-width="1.4" stroke-dasharray="6.5 3.5"/>
<polyline points="281.5,344.6 290.7,358.4 300,358.4 309.3,358.4 336.2,285.5 363.6,300.1 399.5,311.1" fill="none" stroke="#ffa860" stroke-width="1.3"/>
<circle cx="281.5" cy="344.6" r="2.2" fill="#ffa860" stroke="none" stroke-width="0"/>
<circle cx="290.7" cy="358.4" r="2.2" fill="#ffa860" stroke="none" stroke-width="0"/>
<circle cx="300" cy="358.4" r="2.2" fill="#ffa860" stroke="none" stroke-width="0"/>
<circle cx="309.3" cy="358.4" r="2.2" fill="#ffa860" stroke="none" stroke-width="0"/>
<circle cx="336.2" cy="285.5" r="2.2" fill="#ffa860" stroke="none" stroke-width="0"/>
<circle cx="363.6" cy="300.1" r="2.2" fill="#ffa860" stroke="none" stroke-width="0"/>
<circle cx="399.5" cy="311.1" r="2.2" fill="#ffa860" stroke="none" stroke-width="0"/>
<polyline points="281.5,336.9 290.7,347.4 300,347.4 309.3,347.4 336.2,288.3 363.6,298.6 399.5,310.2" fill="none" stroke="#ff3dff" stroke-width="1.3"/>
<circle cx="281.5" cy="336.9" r="2.3" fill="#ff3dff" stroke="none" stroke-width="0"/>
<circle cx="290.7" cy="347.4" r="2.3" fill="#ff3dff" stroke="none" stroke-width="0"/>
<circle cx="300" cy="347.4" r="2.3" fill="#ff3dff" stroke="none" stroke-width="0"/>
<circle cx="309.3" cy="347.4" r="2.3" fill="#ff3dff" stroke="none" stroke-width="0"/>
<circle cx="336.2" cy="288.3" r="2.3" fill="#ff3dff" stroke="none" stroke-width="0"/>
<circle cx="363.6" cy="298.6" r="2.3" fill="#ff3dff" stroke="none" stroke-width="0"/>
<circle cx="399.5" cy="310.2" r="2.3" fill="#ff3dff" stroke="none" stroke-width="0"/>
<polyline points="281.5,301.5 290.7,311.3 300,313.3 309.3,314.6 336.2,308.5 363.6,315 399.5,314.4" fill="none" stroke="#ff2020" stroke-width="1.3"/>
<line x1="281.5" y1="299.3" x2="281.5" y2="303.7" stroke="#ff2020" stroke-width="0.9"/>
<line x1="279.9" y1="299.3" x2="283.1" y2="299.3" stroke="#ff2020" stroke-width="0.9"/>
<line x1="279.9" y1="303.7" x2="283.1" y2="303.7" stroke="#ff2020" stroke-width="0.9"/>
<circle cx="281.5" cy="301.5" r="2.4" fill="#ff2020" stroke="none" stroke-width="0"/>
<circle cx="290.7" cy="311.3" r="2.4" fill="#ff2020" stroke="none" stroke-width="0"/>
<circle cx="300" cy="313.3" r="2.4" fill="#ff2020" stroke="none" stroke-width="0"/>
<circle cx="309.3" cy="314.6" r="2.4" fill="#ff2020" stroke="none" stroke-width="0"/>
<line x1="336.2" y1="305.5" x2="336.2" y2="311.5" stroke="#ff2020" stroke-width="0.9"/>
<line x1="334.59999999999997" y1="305.5" x2="337.8" y2="305.5" stroke="#ff2020" stroke-width="0.9"/>
<line x1="334.59999999999997" y1="311.5" x2="337.8" y2="311.5" stroke="#ff2020" stroke-width="0.9"/>
<circle cx="336.2" cy="308.5" r="2.4" fill="#ff2020" stroke="none" stroke-width="0"/>
<circle cx="363.6" cy="315" r="2.4" fill="#ff2020" stroke="none" stroke-width="0"/>
<circle cx="399.5" cy="314.4" r="2.4" fill="#ff2020" stroke="none" stroke-width="0"/>
<text x="425.5" y="258.9" font-size="17.5" font-weight="bold" text-anchor="start" fill="#000" stroke="#000" stroke-width="0.35">f</text>
<line x1="497.8" y1="268.6" x2="497.8" y2="378.5" stroke="#000" stroke-width="1.9"/>
<line x1="496.9" y1="377.7" x2="590.3" y2="377.7" stroke="#000" stroke-width="1.9"/>
<line x1="493" y1="268.7" x2="497.8" y2="268.7" stroke="#000" stroke-width="1.6"/>
<text x="490.4" y="272.3" font-size="10.2" font-weight="bold" text-anchor="end" fill="#000" stroke="#000" stroke-width="0.12" textLength="22.4" lengthAdjust="spacingAndGlyphs">2500</text>
<line x1="493" y1="290.5" x2="497.8" y2="290.5" stroke="#000" stroke-width="1.6"/>
<text x="490.4" y="294.1" font-size="10.2" font-weight="bold" text-anchor="end" fill="#000" stroke="#000" stroke-width="0.12" textLength="22.4" lengthAdjust="spacingAndGlyphs">2000</text>
<line x1="493" y1="312.29999999999995" x2="497.8" y2="312.29999999999995" stroke="#000" stroke-width="1.6"/>
<text x="490.4" y="315.9" font-size="10.2" font-weight="bold" text-anchor="end" fill="#000" stroke="#000" stroke-width="0.12" textLength="22.4" lengthAdjust="spacingAndGlyphs">1500</text>
<line x1="493" y1="334.09999999999997" x2="497.8" y2="334.09999999999997" stroke="#000" stroke-width="1.6"/>
<text x="490.4" y="337.7" font-size="10.2" font-weight="bold" text-anchor="end" fill="#000" stroke="#000" stroke-width="0.12" textLength="22.4" lengthAdjust="spacingAndGlyphs">1000</text>
<line x1="493" y1="355.9" x2="497.8" y2="355.9" stroke="#000" stroke-width="1.6"/>
<text x="490.4" y="359.5" font-size="10.2" font-weight="bold" text-anchor="end" fill="#000" stroke="#000" stroke-width="0.12" textLength="16.8" lengthAdjust="spacingAndGlyphs">500</text>
<line x1="493" y1="377.7" x2="497.8" y2="377.7" stroke="#000" stroke-width="1.6"/>
<text x="490.4" y="381.3" font-size="10.2" font-weight="bold" text-anchor="end" fill="#000" stroke="#000" stroke-width="0.12" textLength="5.6" lengthAdjust="spacingAndGlyphs">0</text>
<line x1="524" y1="377.7" x2="524" y2="383" stroke="#000" stroke-width="1.6"/>
<line x1="549.2" y1="377.7" x2="549.2" y2="383" stroke="#000" stroke-width="1.6"/>
<line x1="574.3" y1="377.7" x2="574.3" y2="383" stroke="#000" stroke-width="1.6"/>
<text x="449.9" y="324.1" font-size="10.2" font-weight="bold" text-anchor="middle" fill="#000" stroke="#000" stroke-width="0.12" textLength="72.8" lengthAdjust="spacingAndGlyphs" transform="rotate(-90 449.9 324.1)">Cumulative food</text>
<text x="460.8" y="323.8" font-size="10.2" font-weight="bold" text-anchor="middle" fill="#000" stroke="#000" stroke-width="0.12" textLength="85.6" lengthAdjust="spacingAndGlyphs" transform="rotate(-90 460.8 323.8)">consumption (kcal)</text>
<circle cx="520" cy="276.4" r="2.55" fill="#ff2a00" stroke="none" stroke-width="0"/>
<circle cx="528.5" cy="277.5" r="2.55" fill="#ff2a00" stroke="none" stroke-width="0"/>
<circle cx="532.8" cy="285.3" r="2.55" fill="#ff2a00" stroke="none" stroke-width="0"/>
<circle cx="515.3" cy="288.5" r="2.55" fill="#ff2a00" stroke="none" stroke-width="0"/>
<circle cx="519.7" cy="289.2" r="2.55" fill="#ff2a00" stroke="none" stroke-width="0"/>
<circle cx="528.5" cy="290.4" r="2.55" fill="#ff2a00" stroke="none" stroke-width="0"/>
<circle cx="518.2" cy="292.8" r="2.55" fill="#ff2a00" stroke="none" stroke-width="0"/>
<circle cx="522.6" cy="295" r="2.55" fill="#ff2a00" stroke="none" stroke-width="0"/>
<circle cx="530" cy="294.3" r="2.55" fill="#ff2a00" stroke="none" stroke-width="0"/>
<circle cx="526.3" cy="297.7" r="2.55" fill="#ff2a00" stroke="none" stroke-width="0"/>
<circle cx="516" cy="302" r="2.55" fill="#ff2a00" stroke="none" stroke-width="0"/>
<circle cx="526.7" cy="303" r="2.55" fill="#ff2a00" stroke="none" stroke-width="0"/>
<circle cx="532.1" cy="301.6" r="2.55" fill="#ff2a00" stroke="none" stroke-width="0"/>
<circle cx="521.5" cy="308.6" r="2.55" fill="#ff2a00" stroke="none" stroke-width="0"/>
<circle cx="545" cy="277.2" r="2.55" fill="#ff8c00" stroke="none" stroke-width="0"/>
<circle cx="553.3" cy="278.7" r="2.55" fill="#ff8c00" stroke="none" stroke-width="0"/>
<circle cx="543.8" cy="280.4" r="2.55" fill="#ff8c00" stroke="none" stroke-width="0"/>
<circle cx="548.2" cy="281.9" r="2.55" fill="#ff8c00" stroke="none" stroke-width="0"/>
<circle cx="555.2" cy="281.2" r="2.55" fill="#ff8c00" stroke="none" stroke-width="0"/>
<circle cx="551.1" cy="282.6" r="2.55" fill="#ff8c00" stroke="none" stroke-width="0"/>
<circle cx="542.3" cy="286.7" r="2.55" fill="#ff8c00" stroke="none" stroke-width="0"/>
<circle cx="555.5" cy="290.4" r="2.55" fill="#ff8c00" stroke="none" stroke-width="0"/>
<circle cx="549.3" cy="292.8" r="2.55" fill="#ff8c00" stroke="none" stroke-width="0"/>
<circle cx="541.3" cy="295" r="2.55" fill="#ff8c00" stroke="none" stroke-width="0"/>
<circle cx="553.7" cy="299.4" r="2.55" fill="#ff8c00" stroke="none" stroke-width="0"/>
<circle cx="546.4" cy="300.9" r="2.55" fill="#ff8c00" stroke="none" stroke-width="0"/>
<circle cx="556.9" cy="303.8" r="2.55" fill="#ff8c00" stroke="none" stroke-width="0"/>
<circle cx="541.3" cy="304.5" r="2.55" fill="#ff8c00" stroke="none" stroke-width="0"/>
<circle cx="551.8" cy="306.4" r="2.55" fill="#ff8c00" stroke="none" stroke-width="0"/>
<circle cx="546.4" cy="311.1" r="2.55" fill="#ff8c00" stroke="none" stroke-width="0"/>
<circle cx="574.2" cy="271" r="2.55" fill="#ff66ff" stroke="none" stroke-width="0"/>
<circle cx="578.8" cy="275.3" r="2.55" fill="#ff66ff" stroke="none" stroke-width="0"/>
<circle cx="569.8" cy="277.5" r="2.55" fill="#ff66ff" stroke="none" stroke-width="0"/>
<circle cx="580" cy="280.4" r="2.55" fill="#ff66ff" stroke="none" stroke-width="0"/>
<circle cx="568.3" cy="280.4" r="2.55" fill="#ff66ff" stroke="none" stroke-width="0"/>
<circle cx="573" cy="282.6" r="2.55" fill="#ff66ff" stroke="none" stroke-width="0"/>
<circle cx="576.6" cy="283.4" r="2.55" fill="#ff66ff" stroke="none" stroke-width="0"/>
<circle cx="570.8" cy="295.8" r="2.55" fill="#ff66ff" stroke="none" stroke-width="0"/>
<circle cx="578.8" cy="295.8" r="2.55" fill="#ff66ff" stroke="none" stroke-width="0"/>
<circle cx="568.6" cy="298" r="2.55" fill="#ff66ff" stroke="none" stroke-width="0"/>
<circle cx="574.5" cy="298.2" r="2.55" fill="#ff66ff" stroke="none" stroke-width="0"/>
<circle cx="580" cy="299.4" r="2.55" fill="#ff66ff" stroke="none" stroke-width="0"/>
<circle cx="566.4" cy="302.3" r="2.55" fill="#ff66ff" stroke="none" stroke-width="0"/>
<circle cx="576.6" cy="302.3" r="2.55" fill="#ff66ff" stroke="none" stroke-width="0"/>
<circle cx="582.5" cy="301.6" r="2.55" fill="#ff66ff" stroke="none" stroke-width="0"/>
<circle cx="571.5" cy="308.2" r="2.55" fill="#ff66ff" stroke="none" stroke-width="0"/>
<line x1="513.4000000000001" y1="293.3" x2="535.0" y2="293.3" stroke="#2a2a2a" stroke-width="1.2"/>
<line x1="524.2" y1="290.5" x2="524.2" y2="296" stroke="#2a2a2a" stroke-width="1.0"/>
<line x1="520.2" y1="290.5" x2="528.2" y2="290.5" stroke="#2a2a2a" stroke-width="1.2"/>
<line x1="520.2" y1="296" x2="528.2" y2="296" stroke="#2a2a2a" stroke-width="1.2"/>
<line x1="538.6999999999999" y1="292.8" x2="559.9" y2="292.8" stroke="#2a2a2a" stroke-width="1.2"/>
<line x1="549.3" y1="290" x2="549.3" y2="295.5" stroke="#2a2a2a" stroke-width="1.0"/>
<line x1="545.3" y1="290" x2="553.3" y2="290" stroke="#2a2a2a" stroke-width="1.2"/>
<line x1="545.3" y1="295.5" x2="553.3" y2="295.5" stroke="#2a2a2a" stroke-width="1.2"/>
<line x1="563.5" y1="291.1" x2="585.0999999999999" y2="291.1" stroke="#2a2a2a" stroke-width="1.2"/>
<line x1="574.3" y1="288.5" x2="574.3" y2="293.9" stroke="#2a2a2a" stroke-width="1.0"/>
<line x1="570.3" y1="288.5" x2="578.3" y2="288.5" stroke="#2a2a2a" stroke-width="1.2"/>
<line x1="570.3" y1="293.9" x2="578.3" y2="293.9" stroke="#2a2a2a" stroke-width="1.2"/>
<path d="M302.8,435.7 L43.8,435.7 L43.8,440 L302.8,440" stroke="#000" stroke-width="1.6" fill="none"/>
<path d="M403.6,435.7 L662.1,435.7 L662.1,440 L403.6,440" stroke="#000" stroke-width="1.6" fill="none"/>
<text x="353.1" y="440.4" font-size="9.4" font-weight="bold" text-anchor="middle" fill="#000" textLength="66.4" lengthAdjust="spacingAndGlyphs">within cycle #4</text>
<text x="132.1" y="406.6" font-size="9.6" font-weight="bold" text-anchor="middle" fill="#000" textLength="54.8" lengthAdjust="spacingAndGlyphs">Day of cycle</text>
<text x="1.0" y="471.2" font-size="17.5" font-weight="bold" text-anchor="start" fill="#000" stroke="#000" stroke-width="0.35">g</text>
<line x1="44.5" y1="476.8" x2="44.5" y2="586.0" stroke="#000" stroke-width="1.9"/>
<line x1="43.6" y1="585.1" x2="164.8" y2="585.1" stroke="#000" stroke-width="1.9"/>
<line x1="39.9" y1="585.1" x2="44.5" y2="585.1" stroke="#000" stroke-width="1.6"/>
<text x="37.4" y="588.7" font-size="10.2" font-weight="bold" text-anchor="end" fill="#000" stroke="#000" stroke-width="0.12" textLength="5.6" lengthAdjust="spacingAndGlyphs">0</text>
<line x1="39.9" y1="563.45" x2="44.5" y2="563.45" stroke="#000" stroke-width="1.6"/>
<text x="37.4" y="567.0500000000001" font-size="10.2" font-weight="bold" text-anchor="end" fill="#000" stroke="#000" stroke-width="0.12" textLength="5.6" lengthAdjust="spacingAndGlyphs">5</text>
<line x1="39.9" y1="541.8000000000001" x2="44.5" y2="541.8000000000001" stroke="#000" stroke-width="1.6"/>
<text x="37.4" y="545.4000000000001" font-size="10.2" font-weight="bold" text-anchor="end" fill="#000" stroke="#000" stroke-width="0.12" textLength="11.2" lengthAdjust="spacingAndGlyphs">10</text>
<line x1="39.9" y1="520.15" x2="44.5" y2="520.15" stroke="#000" stroke-width="1.6"/>
<text x="37.4" y="523.75" font-size="10.2" font-weight="bold" text-anchor="end" fill="#000" stroke="#000" stroke-width="0.12" textLength="11.2" lengthAdjust="spacingAndGlyphs">15</text>
<line x1="39.9" y1="498.5" x2="44.5" y2="498.5" stroke="#000" stroke-width="1.6"/>
<text x="37.4" y="502.1" font-size="10.2" font-weight="bold" text-anchor="end" fill="#000" stroke="#000" stroke-width="0.12" textLength="11.2" lengthAdjust="spacingAndGlyphs">20</text>
<line x1="39.9" y1="476.85" x2="44.5" y2="476.85" stroke="#000" stroke-width="1.6"/>
<text x="37.4" y="480.45000000000005" font-size="10.2" font-weight="bold" text-anchor="end" fill="#000" stroke="#000" stroke-width="0.12" textLength="11.2" lengthAdjust="spacingAndGlyphs">25</text>
<line x1="66.8" y1="585.1" x2="66.8" y2="589.7" stroke="#000" stroke-width="1.6"/>
<line x1="87.9" y1="585.1" x2="87.9" y2="589.7" stroke="#000" stroke-width="1.6"/>
<line x1="109.1" y1="585.1" x2="109.1" y2="589.7" stroke="#000" stroke-width="1.6"/>
<text x="109.1" y="601.6" font-size="10.6" font-weight="bold" text-anchor="middle" fill="#000" stroke="#000" stroke-width="0.12" textLength="14.8" lengthAdjust="spacingAndGlyphs">RF</text>
<line x1="130" y1="585.1" x2="130" y2="589.7" stroke="#000" stroke-width="1.6"/>
<line x1="150.9" y1="585.1" x2="150.9" y2="589.7" stroke="#000" stroke-width="1.6"/>
<text x="150.9" y="601.6" font-size="10.6" font-weight="bold" text-anchor="middle" fill="#000" stroke="#000" stroke-width="0.12" textLength="14.8" lengthAdjust="spacingAndGlyphs">RF</text>
<text x="19.6" y="531.2" font-size="10.2" font-weight="bold" text-anchor="middle" fill="#000" stroke="#000" stroke-width="0.12" textLength="58.5" lengthAdjust="spacingAndGlyphs" transform="rotate(-90 19.6 531.2)" xml:space="preserve">Fat  mass (g)</text>
<path d="M59.6,474.4 L140.9,474.4 L140.9,490.5 M128.9,490.5 L151.4,490.5" stroke="#000" stroke-width="1.6" fill="none"/>
<path d="M59.6,484.2 L95.3,484.2 L95.3,490 M84.1,490 L106.3,490" stroke="#000" stroke-width="1.6" fill="none"/>
<path d="M99.90,468.20 L99.90,465.10 M99.90,468.20 L102.85,467.24 M99.90,468.20 L101.72,470.71 M99.90,468.20 L98.08,470.71 M99.90,468.20 L96.95,467.24 " stroke="#000" stroke-width="1.35" stroke-linecap="butt" fill="none"/>
<path d="M77.20,479.20 L77.20,476.10 M77.20,479.20 L80.15,478.24 M77.20,479.20 L79.02,481.71 M77.20,479.20 L75.38,481.71 M77.20,479.20 L74.25,478.24 " stroke="#000" stroke-width="1.35" stroke-linecap="butt" fill="none"/>
<path d="M87.20,505.70 L87.20,502.60 M87.20,505.70 L90.15,504.74 M87.20,505.70 L89.02,508.21 M87.20,505.70 L85.38,508.21 M87.20,505.70 L84.25,504.74 " stroke="#000" stroke-width="1.35" stroke-linecap="butt" fill="none"/>
<path d="M107.8,492.3 L105.39999999999999,500.7 M110.4,492.3 L108.0,500.7 M105.0,495.2 L111.0,495.2 M104.6,498.0 L110.6,498.0" stroke="#000" stroke-width="1.05" fill="none"/>
<path d="M150.9,494.6 L148.50000000000003,503.0 M153.5,494.6 L151.10000000000002,503.0 M148.10000000000002,497.5 L154.1,497.5 M147.70000000000002,500.3 L153.7,500.3" stroke="#000" stroke-width="1.05" fill="none"/>
<line x1="57.39999999999999" y1="516.3" x2="75.8" y2="516.3" stroke="#3a3a3a" stroke-width="1.2"/>
<line x1="66.6" y1="509.2" x2="66.6" y2="525.7" stroke="#3a3a3a" stroke-width="1.1"/>
<line x1="61.89999999999999" y1="509.2" x2="71.3" y2="509.2" stroke="#3a3a3a" stroke-width="1.2"/>
<line x1="61.89999999999999" y1="525.7" x2="71.3" y2="525.7" stroke="#3a3a3a" stroke-width="1.2"/>
<line x1="78.7" y1="533.4" x2="97.10000000000001" y2="533.4" stroke="#3a3a3a" stroke-width="1.2"/>
<line x1="87.9" y1="522.5" x2="87.9" y2="544.4" stroke="#3a3a3a" stroke-width="1.1"/>
<line x1="82.9" y1="522.5" x2="92.9" y2="522.5" stroke="#3a3a3a" stroke-width="1.2"/>
<line x1="82.9" y1="544.4" x2="92.9" y2="544.4" stroke="#3a3a3a" stroke-width="1.2"/>
<line x1="100.3" y1="524.1" x2="117.7" y2="524.1" stroke="#3a3a3a" stroke-width="1.2"/>
<line x1="109" y1="514.2" x2="109" y2="531" stroke="#3a3a3a" stroke-width="1.1"/>
<line x1="104.6" y1="514.2" x2="113.4" y2="514.2" stroke="#3a3a3a" stroke-width="1.2"/>
<line x1="104.6" y1="531" x2="113.4" y2="531" stroke="#3a3a3a" stroke-width="1.2"/>
<line x1="120.89999999999999" y1="531.1" x2="139.5" y2="531.1" stroke="#3a3a3a" stroke-width="1.2"/>
<line x1="130.2" y1="520.3" x2="130.2" y2="542.4" stroke="#3a3a3a" stroke-width="1.1"/>
<line x1="125.29999999999998" y1="520.3" x2="135.1" y2="520.3" stroke="#3a3a3a" stroke-width="1.2"/>
<line x1="125.29999999999998" y1="542.4" x2="135.1" y2="542.4" stroke="#3a3a3a" stroke-width="1.2"/>
<line x1="142.4" y1="524.8" x2="160.4" y2="524.8" stroke="#3a3a3a" stroke-width="1.2"/>
<line x1="151.4" y1="515.5" x2="151.4" y2="535.8" stroke="#3a3a3a" stroke-width="1.1"/>
<line x1="146.8" y1="515.5" x2="156.0" y2="515.5" stroke="#3a3a3a" stroke-width="1.2"/>
<line x1="146.8" y1="535.8" x2="156.0" y2="535.8" stroke="#3a3a3a" stroke-width="1.2"/>
<circle cx="61.2" cy="503.9" r="2.4" fill="#ff2a00" stroke="none" stroke-width="0"/>
<circle cx="72.1" cy="501.8" r="2.4" fill="#ff2a00" stroke="none" stroke-width="0"/>
<circle cx="64.9" cy="506.1" r="2.4" fill="#ff2a00" stroke="none" stroke-width="0"/>
<circle cx="69.2" cy="506.8" r="2.4" fill="#ff2a00" stroke="none" stroke-width="0"/>
<circle cx="66.5" cy="505.5" r="2.4" fill="#ff2a00" stroke="none" stroke-width="0"/>
<circle cx="59.9" cy="513.6" r="2.4" fill="#ff2a00" stroke="none" stroke-width="0"/>
<circle cx="63.7" cy="513" r="2.4" fill="#ff2a00" stroke="none" stroke-width="0"/>
<circle cx="71.1" cy="513" r="2.4" fill="#ff2a00" stroke="none" stroke-width="0"/>
<circle cx="73.6" cy="514.2" r="2.4" fill="#ff2a00" stroke="none" stroke-width="0"/>
<circle cx="66.1" cy="515.4" r="2.4" fill="#ff2a00" stroke="none" stroke-width="0"/>
<circle cx="62" cy="515.5" r="2.4" fill="#ff2a00" stroke="none" stroke-width="0"/>
<circle cx="70" cy="516" r="2.4" fill="#ff2a00" stroke="none" stroke-width="0"/>
<circle cx="72.3" cy="521.3" r="2.4" fill="#ff2a00" stroke="none" stroke-width="0"/>
<circle cx="58.1" cy="523.8" r="2.4" fill="#ff2a00" stroke="none" stroke-width="0"/>
<circle cx="66.5" cy="525.1" r="2.4" fill="#ff2a00" stroke="none" stroke-width="0"/>
<circle cx="60.9" cy="529.7" r="2.4" fill="#ff2a00" stroke="none" stroke-width="0"/>
<circle cx="72.3" cy="531.3" r="2.4" fill="#ff2a00" stroke="none" stroke-width="0"/>
<circle cx="66.5" cy="535.3" r="2.4" fill="#ff2a00" stroke="none" stroke-width="0"/>
<circle cx="82" cy="519.8" r="2.4" fill="#ff8c00" stroke="none" stroke-width="0"/>
<circle cx="93.4" cy="517.9" r="2.4" fill="#ff8c00" stroke="none" stroke-width="0"/>
<circle cx="87.9" cy="524.8" r="2.4" fill="#ff8c00" stroke="none" stroke-width="0"/>
<circle cx="84.1" cy="527.9" r="2.4" fill="#ff8c00" stroke="none" stroke-width="0"/>
<circle cx="91.6" cy="527" r="2.4" fill="#ff8c00" stroke="none" stroke-width="0"/>
<circle cx="82.9" cy="532.2" r="2.4" fill="#ff8c00" stroke="none" stroke-width="0"/>
<circle cx="87.2" cy="532.8" r="2.4" fill="#ff8c00" stroke="none" stroke-width="0"/>
<circle cx="92.2" cy="532.2" r="2.4" fill="#ff8c00" stroke="none" stroke-width="0"/>
<circle cx="82" cy="540.9" r="2.4" fill="#ff8c00" stroke="none" stroke-width="0"/>
<circle cx="93.4" cy="540.9" r="2.4" fill="#ff8c00" stroke="none" stroke-width="0"/>
<circle cx="87.6" cy="544.4" r="2.4" fill="#ff8c00" stroke="none" stroke-width="0"/>
<circle cx="87.6" cy="559.5" r="2.4" fill="#ff8c00" stroke="none" stroke-width="0"/>
<circle cx="105.6" cy="507.4" r="2.2" fill="none" stroke="#ff8c00" stroke-width="0.95"/>
<circle cx="112.7" cy="508.6" r="2.2" fill="none" stroke="#ff8c00" stroke-width="0.95"/>
<circle cx="106.5" cy="512.3" r="2.2" fill="none" stroke="#ff8c00" stroke-width="0.95"/>
<circle cx="111.4" cy="513.6" r="2.2" fill="none" stroke="#ff8c00" stroke-width="0.95"/>
<circle cx="103.1" cy="518.5" r="2.2" fill="none" stroke="#ff8c00" stroke-width="0.95"/>
<circle cx="105.9" cy="522.5" r="2.2" fill="none" stroke="#ff8c00" stroke-width="0.95"/>
<circle cx="110" cy="522" r="2.2" fill="none" stroke="#ff8c00" stroke-width="0.95"/>
<circle cx="115.2" cy="522" r="2.2" fill="none" stroke="#ff8c00" stroke-width="0.95"/>
<circle cx="113.3" cy="522.9" r="2.2" fill="none" stroke="#ff8c00" stroke-width="0.95"/>
<circle cx="104.6" cy="527" r="2.2" fill="none" stroke="#ff8c00" stroke-width="0.95"/>
<circle cx="108" cy="526" r="2.2" fill="none" stroke="#ff8c00" stroke-width="0.95"/>
<circle cx="112.1" cy="529.7" r="2.2" fill="none" stroke="#ff8c00" stroke-width="0.95"/>
<circle cx="104.6" cy="532.2" r="2.2" fill="none" stroke="#ff8c00" stroke-width="0.95"/>
<circle cx="107.7" cy="533.7" r="2.2" fill="none" stroke="#ff8c00" stroke-width="0.95"/>
<circle cx="110.8" cy="533.7" r="2.2" fill="none" stroke="#ff8c00" stroke-width="0.95"/>
<circle cx="114.5" cy="532.2" r="2.2" fill="none" stroke="#ff8c00" stroke-width="0.95"/>
<circle cx="109" cy="548.3" r="2.2" fill="none" stroke="#ff8c00" stroke-width="0.95"/>
<circle cx="124.5" cy="519.5" r="2.4" fill="#ff44ff" stroke="none" stroke-width="0"/>
<circle cx="136.1" cy="516.6" r="2.4" fill="#ff44ff" stroke="none" stroke-width="0"/>
<circle cx="130.3" cy="521.3" r="2.4" fill="#ff44ff" stroke="none" stroke-width="0"/>
<circle cx="125.1" cy="527.1" r="2.4" fill="#ff44ff" stroke="none" stroke-width="0"/>
<circle cx="128" cy="528" r="2.4" fill="#ff44ff" stroke="none" stroke-width="0"/>
<circle cx="133.2" cy="528.2" r="2.4" fill="#ff44ff" stroke="none" stroke-width="0"/>
<circle cx="136.1" cy="528.8" r="2.4" fill="#ff44ff" stroke="none" stroke-width="0"/>
<circle cx="130.3" cy="529.4" r="2.4" fill="#ff44ff" stroke="none" stroke-width="0"/>
<circle cx="126.2" cy="533.8" r="2.4" fill="#ff44ff" stroke="none" stroke-width="0"/>
<circle cx="133.7" cy="538.7" r="2.4" fill="#ff44ff" stroke="none" stroke-width="0"/>
<circle cx="133.7" cy="547.3" r="2.4" fill="#ff44ff" stroke="none" stroke-width="0"/>
<circle cx="126.6" cy="553.9" r="2.4" fill="#ff44ff" stroke="none" stroke-width="0"/>
<circle cx="145.9" cy="509.1" r="2.2" fill="none" stroke="#ff44ff" stroke-width="0.95"/>
<circle cx="157.3" cy="510.6" r="2.2" fill="none" stroke="#ff44ff" stroke-width="0.95"/>
<circle cx="151.1" cy="513.2" r="2.2" fill="none" stroke="#ff44ff" stroke-width="0.95"/>
<circle cx="147.6" cy="517.8" r="2.2" fill="none" stroke="#ff44ff" stroke-width="0.95"/>
<circle cx="154.6" cy="518.4" r="2.2" fill="none" stroke="#ff44ff" stroke-width="0.95"/>
<circle cx="145.9" cy="523.4" r="2.2" fill="none" stroke="#ff44ff" stroke-width="0.95"/>
<circle cx="156.9" cy="524.2" r="2.2" fill="none" stroke="#ff44ff" stroke-width="0.95"/>
<circle cx="148.8" cy="526.5" r="2.2" fill="none" stroke="#ff44ff" stroke-width="0.95"/>
<circle cx="153.4" cy="525.9" r="2.2" fill="none" stroke="#ff44ff" stroke-width="0.95"/>
<circle cx="147.1" cy="530.5" r="2.2" fill="none" stroke="#ff44ff" stroke-width="0.95"/>
<circle cx="151.5" cy="530" r="2.2" fill="none" stroke="#ff44ff" stroke-width="0.95"/>
<circle cx="155.2" cy="531.7" r="2.2" fill="none" stroke="#ff44ff" stroke-width="0.95"/>
<circle cx="149.4" cy="534" r="2.2" fill="none" stroke="#ff44ff" stroke-width="0.95"/>
<circle cx="153.4" cy="537.5" r="2.2" fill="none" stroke="#ff44ff" stroke-width="0.95"/>
<circle cx="155.2" cy="542.4" r="2.2" fill="none" stroke="#ff44ff" stroke-width="0.95"/>
<circle cx="147.6" cy="545" r="2.2" fill="none" stroke="#ff44ff" stroke-width="0.95"/>
<text x="178.3" y="473.2" font-size="17.5" font-weight="bold" text-anchor="start" fill="#000" stroke="#000" stroke-width="0.35">h</text>
<line x1="223.3" y1="477.5" x2="223.3" y2="587.4" stroke="#000" stroke-width="1.9"/>
<line x1="222.4" y1="586.5" x2="340.1" y2="586.5" stroke="#000" stroke-width="1.9"/>
<line x1="218.70000000000002" y1="586.5" x2="223.3" y2="586.5" stroke="#000" stroke-width="1.6"/>
<text x="216.20000000000002" y="590.1" font-size="10.2" font-weight="bold" text-anchor="end" fill="#000" stroke="#000" stroke-width="0.12" textLength="5.6" lengthAdjust="spacingAndGlyphs">0</text>
<line x1="218.70000000000002" y1="555.7" x2="223.3" y2="555.7" stroke="#000" stroke-width="1.6"/>
<text x="216.20000000000002" y="559.3000000000001" font-size="10.2" font-weight="bold" text-anchor="end" fill="#000" stroke="#000" stroke-width="0.12" textLength="11.5" lengthAdjust="spacingAndGlyphs">10</text>
<line x1="218.70000000000002" y1="524.9" x2="223.3" y2="524.9" stroke="#000" stroke-width="1.6"/>
<text x="216.20000000000002" y="528.5" font-size="10.2" font-weight="bold" text-anchor="end" fill="#000" stroke="#000" stroke-width="0.12" textLength="11.5" lengthAdjust="spacingAndGlyphs">20</text>
<line x1="218.70000000000002" y1="494.1" x2="223.3" y2="494.1" stroke="#000" stroke-width="1.6"/>
<text x="216.20000000000002" y="497.70000000000005" font-size="10.2" font-weight="bold" text-anchor="end" fill="#000" stroke="#000" stroke-width="0.12" textLength="11.5" lengthAdjust="spacingAndGlyphs">30</text>
<line x1="218.70000000000002" y1="571.1" x2="223.3" y2="571.1" stroke="#000" stroke-width="1.6"/>
<line x1="218.70000000000002" y1="540.3" x2="223.3" y2="540.3" stroke="#000" stroke-width="1.6"/>
<line x1="218.70000000000002" y1="509.5" x2="223.3" y2="509.5" stroke="#000" stroke-width="1.6"/>
<line x1="218.70000000000002" y1="478.7" x2="223.3" y2="478.7" stroke="#000" stroke-width="1.6"/>
<line x1="242.1" y1="586.5" x2="242.1" y2="591.1" stroke="#000" stroke-width="1.6"/>
<line x1="263" y1="586.5" x2="263" y2="591.1" stroke="#000" stroke-width="1.6"/>
<line x1="284.7" y1="586.5" x2="284.7" y2="591.1" stroke="#000" stroke-width="1.6"/>
<text x="284.7" y="601.6" font-size="10.6" font-weight="bold" text-anchor="middle" fill="#000" stroke="#000" stroke-width="0.12" textLength="14.8" lengthAdjust="spacingAndGlyphs">RF</text>
<line x1="305.8" y1="586.5" x2="305.8" y2="591.1" stroke="#000" stroke-width="1.6"/>
<line x1="326.9" y1="586.5" x2="326.9" y2="591.1" stroke="#000" stroke-width="1.6"/>
<text x="326.9" y="601.6" font-size="10.6" font-weight="bold" text-anchor="middle" fill="#000" stroke="#000" stroke-width="0.12" textLength="14.8" lengthAdjust="spacingAndGlyphs">RF</text>
<text x="199" y="532" font-size="10.2" font-weight="bold" text-anchor="middle" fill="#000" stroke="#000" stroke-width="0.12" textLength="63.8" lengthAdjust="spacingAndGlyphs" transform="rotate(-90 199 532)">Lean mass (g)</text>
<path d="M236.3,470.4 L315.8,470.4 L315.8,479.8 M304.6,479.8 L326.7,479.8" stroke="#000" stroke-width="1.6" fill="none"/>
<path d="M275.00,465.20 L275.00,462.10 M275.00,465.20 L277.95,464.24 M275.00,465.20 L276.82,467.71 M275.00,465.20 L273.18,467.71 M275.00,465.20 L272.05,464.24 " stroke="#000" stroke-width="1.35" stroke-linecap="butt" fill="none"/>
<path d="M263.50,498.40 L263.50,495.30 M263.50,498.40 L266.45,497.44 M263.50,498.40 L265.32,500.91 M263.50,498.40 L261.68,500.91 M263.50,498.40 L260.55,497.44 " stroke="#000" stroke-width="1.35" stroke-linecap="butt" fill="none"/>
<path d="M284.5,483.40000000000003 L282.1,491.8 M287.09999999999997,483.40000000000003 L284.7,491.8 M281.7,486.3 L287.7,486.3 M281.3,489.1 L287.3,489.1" stroke="#000" stroke-width="1.05" fill="none"/>
<path d="M328.0,484.40000000000003 L325.6,492.8 M330.59999999999997,484.40000000000003 L328.2,492.8 M325.2,487.3 L331.2,487.3 M324.8,490.1 L330.8,490.1" stroke="#000" stroke-width="1.05" fill="none"/>
<line x1="233.1" y1="506.2" x2="250.9" y2="506.2" stroke="#3a3a3a" stroke-width="1.2"/>
<line x1="242" y1="499.1" x2="242" y2="513.5" stroke="#3a3a3a" stroke-width="1.1"/>
<line x1="237.3" y1="499.1" x2="246.7" y2="499.1" stroke="#3a3a3a" stroke-width="1.2"/>
<line x1="237.3" y1="513.5" x2="246.7" y2="513.5" stroke="#3a3a3a" stroke-width="1.2"/>
<line x1="254.1" y1="520.1" x2="272.3" y2="520.1" stroke="#3a3a3a" stroke-width="1.2"/>
<line x1="263.2" y1="512.8" x2="263.2" y2="528.3" stroke="#3a3a3a" stroke-width="1.1"/>
<line x1="258.5" y1="512.8" x2="267.9" y2="512.8" stroke="#3a3a3a" stroke-width="1.2"/>
<line x1="258.5" y1="528.3" x2="267.9" y2="528.3" stroke="#3a3a3a" stroke-width="1.2"/>
<line x1="275.1" y1="510.3" x2="293.9" y2="510.3" stroke="#3a3a3a" stroke-width="1.2"/>
<line x1="284.5" y1="502.6" x2="284.5" y2="518.2" stroke="#3a3a3a" stroke-width="1.1"/>
<line x1="279.8" y1="502.6" x2="289.2" y2="502.6" stroke="#3a3a3a" stroke-width="1.2"/>
<line x1="279.8" y1="518.2" x2="289.2" y2="518.2" stroke="#3a3a3a" stroke-width="1.2"/>
<line x1="296.40000000000003" y1="518.5" x2="314.8" y2="518.5" stroke="#3a3a3a" stroke-width="1.2"/>
<line x1="305.6" y1="512.6" x2="305.6" y2="525.4" stroke="#3a3a3a" stroke-width="1.1"/>
<line x1="300.90000000000003" y1="512.6" x2="310.3" y2="512.6" stroke="#3a3a3a" stroke-width="1.2"/>
<line x1="300.90000000000003" y1="525.4" x2="310.3" y2="525.4" stroke="#3a3a3a" stroke-width="1.2"/>
<line x1="318.0" y1="511.4" x2="336.20000000000005" y2="511.4" stroke="#3a3a3a" stroke-width="1.2"/>
<line x1="327.1" y1="507" x2="327.1" y2="517.5" stroke="#3a3a3a" stroke-width="1.1"/>
<line x1="322.40000000000003" y1="507" x2="331.8" y2="507" stroke="#3a3a3a" stroke-width="1.2"/>
<line x1="322.40000000000003" y1="517.5" x2="331.8" y2="517.5" stroke="#3a3a3a" stroke-width="1.2"/>
<circle cx="241.8" cy="493.2" r="2.4" fill="#ff2a00" stroke="none" stroke-width="0"/>
<circle cx="235.9" cy="495.5" r="2.4" fill="#ff2a00" stroke="none" stroke-width="0"/>
<circle cx="247.8" cy="496.4" r="2.4" fill="#ff2a00" stroke="none" stroke-width="0"/>
<circle cx="238.7" cy="500" r="2.4" fill="#ff2a00" stroke="none" stroke-width="0"/>
<circle cx="245.9" cy="500" r="2.4" fill="#ff2a00" stroke="none" stroke-width="0"/>
<circle cx="235.5" cy="506.4" r="2.4" fill="#ff2a00" stroke="none" stroke-width="0"/>
<circle cx="248" cy="506" r="2.4" fill="#ff2a00" stroke="none" stroke-width="0"/>
<circle cx="241.8" cy="501.5" r="2.4" fill="#ff2a00" stroke="none" stroke-width="0"/>
<circle cx="237.3" cy="509.1" r="2.4" fill="#ff2a00" stroke="none" stroke-width="0"/>
<circle cx="241.8" cy="511" r="2.4" fill="#ff2a00" stroke="none" stroke-width="0"/>
<circle cx="248.7" cy="509.1" r="2.4" fill="#ff2a00" stroke="none" stroke-width="0"/>
<circle cx="244.5" cy="503" r="2.4" fill="#ff2a00" stroke="none" stroke-width="0"/>
<circle cx="239" cy="503" r="2.4" fill="#ff2a00" stroke="none" stroke-width="0"/>
<circle cx="236.4" cy="513.9" r="2.4" fill="#ff2a00" stroke="none" stroke-width="0"/>
<circle cx="247.8" cy="516" r="2.4" fill="#ff2a00" stroke="none" stroke-width="0"/>
<circle cx="241.8" cy="519.3" r="2.4" fill="#ff2a00" stroke="none" stroke-width="0"/>
<circle cx="259.6" cy="510.5" r="2.4" fill="#ff8c00" stroke="none" stroke-width="0"/>
<circle cx="266.9" cy="510.8" r="2.4" fill="#ff8c00" stroke="none" stroke-width="0"/>
<circle cx="260" cy="513.9" r="2.4" fill="#ff8c00" stroke="none" stroke-width="0"/>
<circle cx="266.4" cy="516.4" r="2.4" fill="#ff8c00" stroke="none" stroke-width="0"/>
<circle cx="259.1" cy="517.8" r="2.4" fill="#ff8c00" stroke="none" stroke-width="0"/>
<circle cx="261" cy="521" r="2.4" fill="#ff8c00" stroke="none" stroke-width="0"/>
<circle cx="268.7" cy="521" r="2.4" fill="#ff8c00" stroke="none" stroke-width="0"/>
<circle cx="257.3" cy="525.5" r="2.4" fill="#ff8c00" stroke="none" stroke-width="0"/>
<circle cx="263.2" cy="528.3" r="2.4" fill="#ff8c00" stroke="none" stroke-width="0"/>
<circle cx="266.9" cy="528.7" r="2.4" fill="#ff8c00" stroke="none" stroke-width="0"/>
<circle cx="259.3" cy="536" r="2.4" fill="#ff8c00" stroke="none" stroke-width="0"/>
<circle cx="278.7" cy="498.3" r="2.1" fill="none" stroke="#ff8c00" stroke-width="0.95"/>
<circle cx="284.3" cy="499.3" r="2.1" fill="none" stroke="#ff8c00" stroke-width="0.95"/>
<circle cx="290.2" cy="497.1" r="2.1" fill="none" stroke="#ff8c00" stroke-width="0.95"/>
<circle cx="278.7" cy="503.4" r="2.1" fill="none" stroke="#ff8c00" stroke-width="0.95"/>
<circle cx="289.9" cy="506" r="2.1" fill="none" stroke="#ff8c00" stroke-width="0.95"/>
<circle cx="281.8" cy="507.3" r="2.1" fill="none" stroke="#ff8c00" stroke-width="0.95"/>
<circle cx="286.9" cy="507.3" r="2.1" fill="none" stroke="#ff8c00" stroke-width="0.95"/>
<circle cx="279.7" cy="512.1" r="2.1" fill="none" stroke="#ff8c00" stroke-width="0.95"/>
<circle cx="283.3" cy="512.8" r="2.1" fill="none" stroke="#ff8c00" stroke-width="0.95"/>
<circle cx="288.4" cy="512.8" r="2.1" fill="none" stroke="#ff8c00" stroke-width="0.95"/>
<circle cx="280.7" cy="519.2" r="2.1" fill="none" stroke="#ff8c00" stroke-width="0.95"/>
<circle cx="287.9" cy="517.7" r="2.1" fill="none" stroke="#ff8c00" stroke-width="0.95"/>
<circle cx="286.3" cy="521.3" r="2.1" fill="none" stroke="#ff8c00" stroke-width="0.95"/>
<circle cx="282.3" cy="524.9" r="2.1" fill="none" stroke="#ff8c00" stroke-width="0.95"/>
<circle cx="298.1" cy="511.1" r="2.4" fill="#ff44ff" stroke="none" stroke-width="0"/>
<circle cx="302.2" cy="512.6" r="2.4" fill="#ff44ff" stroke="none" stroke-width="0"/>
<circle cx="311.9" cy="509.5" r="2.4" fill="#ff44ff" stroke="none" stroke-width="0"/>
<circle cx="309.3" cy="514.6" r="2.4" fill="#ff44ff" stroke="none" stroke-width="0"/>
<circle cx="301.2" cy="518.2" r="2.4" fill="#ff44ff" stroke="none" stroke-width="0"/>
<circle cx="304.7" cy="519.2" r="2.4" fill="#ff44ff" stroke="none" stroke-width="0"/>
<circle cx="309.9" cy="517.7" r="2.4" fill="#ff44ff" stroke="none" stroke-width="0"/>
<circle cx="309.3" cy="522.3" r="2.4" fill="#ff44ff" stroke="none" stroke-width="0"/>
<circle cx="301.7" cy="524.9" r="2.4" fill="#ff44ff" stroke="none" stroke-width="0"/>
<circle cx="303.7" cy="528.4" r="2.4" fill="#ff44ff" stroke="none" stroke-width="0"/>
<circle cx="307.8" cy="527.4" r="2.4" fill="#ff44ff" stroke="none" stroke-width="0"/>
<circle cx="330.3" cy="499.3" r="2.1" fill="none" stroke="#ff44ff" stroke-width="0.95"/>
<circle cx="323.1" cy="501.4" r="2.1" fill="none" stroke="#ff44ff" stroke-width="0.95"/>
<circle cx="328.8" cy="504.4" r="2.1" fill="none" stroke="#ff44ff" stroke-width="0.95"/>
<circle cx="324.2" cy="505.4" r="2.1" fill="none" stroke="#ff44ff" stroke-width="0.95"/>
<circle cx="332.8" cy="507" r="2.1" fill="none" stroke="#ff44ff" stroke-width="0.95"/>
<circle cx="321.1" cy="508" r="2.1" fill="none" stroke="#ff44ff" stroke-width="0.95"/>
<circle cx="330.8" cy="509" r="2.1" fill="none" stroke="#ff44ff" stroke-width="0.95"/>
<circle cx="325.7" cy="510.5" r="2.1" fill="none" stroke="#ff44ff" stroke-width="0.95"/>
<circle cx="320.6" cy="514.6" r="2.1" fill="none" stroke="#ff44ff" stroke-width="0.95"/>
<circle cx="325.7" cy="514.1" r="2.1" fill="none" stroke="#ff44ff" stroke-width="0.95"/>
<circle cx="329.8" cy="514.1" r="2.1" fill="none" stroke="#ff44ff" stroke-width="0.95"/>
<circle cx="324.2" cy="518.7" r="2.1" fill="none" stroke="#ff44ff" stroke-width="0.95"/>
<circle cx="331.8" cy="517.7" r="2.1" fill="none" stroke="#ff44ff" stroke-width="0.95"/>
<circle cx="327.2" cy="521.8" r="2.1" fill="none" stroke="#ff44ff" stroke-width="0.95"/>
<text x="354" y="474.8" font-size="17.5" font-weight="bold" text-anchor="start" fill="#000" stroke="#000" stroke-width="0.35">i</text>
<line x1="398.3" y1="476.2" x2="398.3" y2="585.5" stroke="#000" stroke-width="1.9"/>
<line x1="397.40000000000003" y1="584.6" x2="521" y2="584.6" stroke="#000" stroke-width="1.9"/>
<line x1="393.7" y1="584.6" x2="398.3" y2="584.6" stroke="#000" stroke-width="1.6"/>
<text x="391.2" y="588.2" font-size="10.2" font-weight="bold" text-anchor="end" fill="#000" stroke="#000" stroke-width="0.12" textLength="5.6" lengthAdjust="spacingAndGlyphs">0</text>
<line x1="393.7" y1="557.5" x2="398.3" y2="557.5" stroke="#000" stroke-width="1.6"/>
<text x="391.2" y="561.1" font-size="10.2" font-weight="bold" text-anchor="end" fill="#000" stroke="#000" stroke-width="0.12" textLength="5.6" lengthAdjust="spacingAndGlyphs">1</text>
<line x1="393.7" y1="530.4" x2="398.3" y2="530.4" stroke="#000" stroke-width="1.6"/>
<text x="391.2" y="534.0" font-size="10.2" font-weight="bold" text-anchor="end" fill="#000" stroke="#000" stroke-width="0.12" textLength="5.6" lengthAdjust="spacingAndGlyphs">2</text>
<line x1="393.7" y1="503.3" x2="398.3" y2="503.3" stroke="#000" stroke-width="1.6"/>
<text x="391.2" y="506.90000000000003" font-size="10.2" font-weight="bold" text-anchor="end" fill="#000" stroke="#000" stroke-width="0.12" textLength="5.6" lengthAdjust="spacingAndGlyphs">3</text>
<line x1="393.7" y1="476.20000000000005" x2="398.3" y2="476.20000000000005" stroke="#000" stroke-width="1.6"/>
<text x="391.2" y="479.80000000000007" font-size="10.2" font-weight="bold" text-anchor="end" fill="#000" stroke="#000" stroke-width="0.12" textLength="5.6" lengthAdjust="spacingAndGlyphs">4</text>
<line x1="417.7" y1="584.6" x2="417.7" y2="589.2" stroke="#000" stroke-width="1.6"/>
<line x1="439.9" y1="584.6" x2="439.9" y2="589.2" stroke="#000" stroke-width="1.6"/>
<line x1="461.2" y1="584.6" x2="461.2" y2="589.2" stroke="#000" stroke-width="1.6"/>
<text x="461.2" y="601.6" font-size="10.6" font-weight="bold" text-anchor="middle" fill="#000" stroke="#000" stroke-width="0.12" textLength="14.8" lengthAdjust="spacingAndGlyphs">RF</text>
<line x1="482.6" y1="584.6" x2="482.6" y2="589.2" stroke="#000" stroke-width="1.6"/>
<line x1="503.9" y1="584.6" x2="503.9" y2="589.2" stroke="#000" stroke-width="1.6"/>
<text x="503.9" y="601.6" font-size="10.6" font-weight="bold" text-anchor="middle" fill="#000" stroke="#000" stroke-width="0.12" textLength="14.8" lengthAdjust="spacingAndGlyphs">RF</text>
<text x="378.4" y="530.8" font-size="10.2" font-weight="bold" text-anchor="middle" fill="#000" stroke="#000" stroke-width="0.12" textLength="62.2" lengthAdjust="spacingAndGlyphs" transform="rotate(-90 378.4 530.8)">Lean/Fat ratio</text>
<path d="M440.70,486.80 L440.70,483.70 M440.70,486.80 L443.65,485.84 M440.70,486.80 L442.52,489.31 M440.70,486.80 L438.88,489.31 M440.70,486.80 L437.75,485.84 " stroke="#000" stroke-width="1.35" stroke-linecap="butt" fill="none"/>
<path d="M503.90,499.60 L503.90,496.50 M503.90,499.60 L506.85,498.64 M503.90,499.60 L505.72,502.11 M503.90,499.60 L502.08,502.11 M503.90,499.60 L500.95,498.64 " stroke="#000" stroke-width="1.35" stroke-linecap="butt" fill="none"/>
<line x1="410.2" y1="531.4" x2="428.59999999999997" y2="531.4" stroke="#3a3a3a" stroke-width="1.2"/>
<line x1="419.4" y1="530" x2="419.4" y2="532.8" stroke="#3a3a3a" stroke-width="1.1"/>
<line x1="417.4" y1="530" x2="421.4" y2="530" stroke="#3a3a3a" stroke-width="1.2"/>
<line x1="417.4" y1="532.8" x2="421.4" y2="532.8" stroke="#3a3a3a" stroke-width="1.2"/>
<line x1="431.5" y1="524.2" x2="449.29999999999995" y2="524.2" stroke="#3a3a3a" stroke-width="1.2"/>
<line x1="440.4" y1="523.2" x2="440.4" y2="526" stroke="#3a3a3a" stroke-width="1.1"/>
<line x1="435.79999999999995" y1="523.2" x2="445.0" y2="523.2" stroke="#3a3a3a" stroke-width="1.2"/>
<line x1="435.79999999999995" y1="526" x2="445.0" y2="526" stroke="#3a3a3a" stroke-width="1.2"/>
<line x1="452.40000000000003" y1="528.3" x2="470.2" y2="528.3" stroke="#3a3a3a" stroke-width="1.2"/>
<line x1="461.3" y1="527.3" x2="461.3" y2="529.3" stroke="#3a3a3a" stroke-width="1.1"/>
<line x1="459.3" y1="527.3" x2="463.3" y2="527.3" stroke="#3a3a3a" stroke-width="1.2"/>
<line x1="459.3" y1="529.3" x2="463.3" y2="529.3" stroke="#3a3a3a" stroke-width="1.2"/>
<line x1="473.7" y1="526.9" x2="491.7" y2="526.9" stroke="#3a3a3a" stroke-width="1.2"/>
<line x1="482.7" y1="524.3" x2="482.7" y2="529.5" stroke="#3a3a3a" stroke-width="1.1"/>
<line x1="478.0" y1="524.3" x2="487.4" y2="524.3" stroke="#3a3a3a" stroke-width="1.2"/>
<line x1="478.0" y1="529.5" x2="487.4" y2="529.5" stroke="#3a3a3a" stroke-width="1.2"/>
<line x1="495.3" y1="526.9" x2="512.9" y2="526.9" stroke="#3a3a3a" stroke-width="1.2"/>
<line x1="504.1" y1="526" x2="504.1" y2="528" stroke="#3a3a3a" stroke-width="1.1"/>
<line x1="502.1" y1="526" x2="506.1" y2="526" stroke="#3a3a3a" stroke-width="1.2"/>
<line x1="502.1" y1="528" x2="506.1" y2="528" stroke="#3a3a3a" stroke-width="1.2"/>
<circle cx="419.2" cy="517.1" r="2.4" fill="#ff2a00" stroke="none" stroke-width="0"/>
<circle cx="413.5" cy="529.5" r="2.4" fill="#ff2a00" stroke="none" stroke-width="0"/>
<circle cx="416" cy="527.3" r="2.4" fill="#ff2a00" stroke="none" stroke-width="0"/>
<circle cx="421.5" cy="527.3" r="2.4" fill="#ff2a00" stroke="none" stroke-width="0"/>
<circle cx="424" cy="529.5" r="2.4" fill="#ff2a00" stroke="none" stroke-width="0"/>
<circle cx="412.5" cy="533" r="2.4" fill="#ff2a00" stroke="none" stroke-width="0"/>
<circle cx="425" cy="533" r="2.4" fill="#ff2a00" stroke="none" stroke-width="0"/>
<circle cx="415" cy="536" r="2.4" fill="#ff2a00" stroke="none" stroke-width="0"/>
<circle cx="422.5" cy="536" r="2.4" fill="#ff2a00" stroke="none" stroke-width="0"/>
<circle cx="418.7" cy="538" r="2.4" fill="#ff2a00" stroke="none" stroke-width="0"/>
<circle cx="418.7" cy="529.5" r="2.4" fill="#ff2a00" stroke="none" stroke-width="0"/>
<circle cx="416" cy="533.5" r="2.4" fill="#ff2a00" stroke="none" stroke-width="0"/>
<circle cx="421.5" cy="533.5" r="2.4" fill="#ff2a00" stroke="none" stroke-width="0"/>
<circle cx="440.4" cy="499.7" r="2.4" fill="#ff8c00" stroke="none" stroke-width="0"/>
<circle cx="433.2" cy="521.2" r="2.4" fill="#ff8c00" stroke="none" stroke-width="0"/>
<circle cx="434" cy="527" r="2.4" fill="#ff8c00" stroke="none" stroke-width="0"/>
<circle cx="437" cy="527.5" r="2.4" fill="#ff8c00" stroke="none" stroke-width="0"/>
<circle cx="440" cy="528" r="2.4" fill="#ff8c00" stroke="none" stroke-width="0"/>
<circle cx="443" cy="527.5" r="2.4" fill="#ff8c00" stroke="none" stroke-width="0"/>
<circle cx="446" cy="525" r="2.4" fill="#ff8c00" stroke="none" stroke-width="0"/>
<circle cx="448" cy="523.2" r="2.4" fill="#ff8c00" stroke="none" stroke-width="0"/>
<circle cx="436" cy="530" r="2.4" fill="#ff8c00" stroke="none" stroke-width="0"/>
<circle cx="439" cy="531" r="2.4" fill="#ff8c00" stroke="none" stroke-width="0"/>
<circle cx="442" cy="530" r="2.4" fill="#ff8c00" stroke="none" stroke-width="0"/>
<circle cx="444" cy="528" r="2.4" fill="#ff8c00" stroke="none" stroke-width="0"/>
<circle cx="440" cy="533" r="2.4" fill="#ff8c00" stroke="none" stroke-width="0"/>
<circle cx="441.5" cy="531.5" r="2.4" fill="#ff8c00" stroke="none" stroke-width="0"/>
<circle cx="438" cy="529.5" r="2.4" fill="#ff8c00" stroke="none" stroke-width="0"/>
<circle cx="461.3" cy="512" r="2.35" fill="none" stroke="#ff8c00" stroke-width="0.95"/>
<circle cx="461.3" cy="522.5" r="2.35" fill="none" stroke="#ff8c00" stroke-width="0.95"/>
<circle cx="458" cy="525" r="2.35" fill="none" stroke="#ff8c00" stroke-width="0.95"/>
<circle cx="464.5" cy="525" r="2.35" fill="none" stroke="#ff8c00" stroke-width="0.95"/>
<circle cx="455.5" cy="528" r="2.35" fill="none" stroke="#ff8c00" stroke-width="0.95"/>
<circle cx="461.3" cy="528" r="2.35" fill="none" stroke="#ff8c00" stroke-width="0.95"/>
<circle cx="467" cy="528" r="2.35" fill="none" stroke="#ff8c00" stroke-width="0.95"/>
<circle cx="458.5" cy="531.5" r="2.35" fill="none" stroke="#ff8c00" stroke-width="0.95"/>
<circle cx="464" cy="531.5" r="2.35" fill="none" stroke="#ff8c00" stroke-width="0.95"/>
<circle cx="461.3" cy="534" r="2.35" fill="none" stroke="#ff8c00" stroke-width="0.95"/>
<circle cx="482.7" cy="503.7" r="2.4" fill="#ff44ff" stroke="none" stroke-width="0"/>
<circle cx="482.7" cy="514.2" r="2.4" fill="#ff44ff" stroke="none" stroke-width="0"/>
<circle cx="476.5" cy="529" r="2.4" fill="#ff44ff" stroke="none" stroke-width="0"/>
<circle cx="479.5" cy="527.5" r="2.4" fill="#ff44ff" stroke="none" stroke-width="0"/>
<circle cx="485.5" cy="527.5" r="2.4" fill="#ff44ff" stroke="none" stroke-width="0"/>
<circle cx="489" cy="529" r="2.4" fill="#ff44ff" stroke="none" stroke-width="0"/>
<circle cx="478" cy="532" r="2.4" fill="#ff44ff" stroke="none" stroke-width="0"/>
<circle cx="482.7" cy="531" r="2.4" fill="#ff44ff" stroke="none" stroke-width="0"/>
<circle cx="487" cy="532" r="2.4" fill="#ff44ff" stroke="none" stroke-width="0"/>
<circle cx="480.5" cy="534" r="2.4" fill="#ff44ff" stroke="none" stroke-width="0"/>
<circle cx="484.5" cy="534" r="2.4" fill="#ff44ff" stroke="none" stroke-width="0"/>
<circle cx="482.7" cy="535" r="2.4" fill="#ff44ff" stroke="none" stroke-width="0"/>
<circle cx="503.9" cy="510.8" r="2.35" fill="none" stroke="#ff44ff" stroke-width="0.95"/>
<circle cx="503.9" cy="518.6" r="2.35" fill="none" stroke="#ff44ff" stroke-width="0.95"/>
<circle cx="509.9" cy="520.9" r="2.35" fill="none" stroke="#ff44ff" stroke-width="0.95"/>
<circle cx="497.9" cy="523.5" r="2.35" fill="none" stroke="#ff44ff" stroke-width="0.95"/>
<circle cx="507.6" cy="525" r="2.35" fill="none" stroke="#ff44ff" stroke-width="0.95"/>
<circle cx="503.9" cy="527.6" r="2.35" fill="none" stroke="#ff44ff" stroke-width="0.95"/>
<circle cx="498.7" cy="528.7" r="2.35" fill="none" stroke="#ff44ff" stroke-width="0.95"/>
<circle cx="509.5" cy="529.4" r="2.35" fill="none" stroke="#ff44ff" stroke-width="0.95"/>
<circle cx="505.8" cy="532.8" r="2.35" fill="none" stroke="#ff44ff" stroke-width="0.95"/>
<circle cx="503.9" cy="535.4" r="2.35" fill="none" stroke="#ff44ff" stroke-width="0.95"/>
<circle cx="501" cy="531.5" r="2.35" fill="none" stroke="#ff44ff" stroke-width="0.95"/>
<text x="535" y="474.5" font-size="17.5" font-weight="bold" text-anchor="start" fill="#000" stroke="#000" stroke-width="0.35">j</text>
<line x1="590.2" y1="476.5" x2="590.2" y2="586" stroke="#000" stroke-width="1.9"/>
<line x1="589.3" y1="585.2" x2="685" y2="585.2" stroke="#000" stroke-width="1.9"/>
<line x1="585.6" y1="476.70000000000005" x2="590.2" y2="476.70000000000005" stroke="#000" stroke-width="1.6"/>
<text x="583.4" y="480.30000000000007" font-size="10.2" font-weight="bold" text-anchor="end" fill="#000" stroke="#000" stroke-width="0.12" textLength="16" lengthAdjust="spacingAndGlyphs">200</text>
<line x1="585.6" y1="498.425" x2="590.2" y2="498.425" stroke="#000" stroke-width="1.6"/>
<text x="583.4" y="502.02500000000003" font-size="10.2" font-weight="bold" text-anchor="end" fill="#000" stroke="#000" stroke-width="0.12" textLength="16" lengthAdjust="spacingAndGlyphs">175</text>
<line x1="585.6" y1="520.15" x2="590.2" y2="520.15" stroke="#000" stroke-width="1.6"/>
<text x="583.4" y="523.75" font-size="10.2" font-weight="bold" text-anchor="end" fill="#000" stroke="#000" stroke-width="0.12" textLength="16" lengthAdjust="spacingAndGlyphs">150</text>
<line x1="585.6" y1="541.875" x2="590.2" y2="541.875" stroke="#000" stroke-width="1.6"/>
<text x="583.4" y="545.475" font-size="10.2" font-weight="bold" text-anchor="end" fill="#000" stroke="#000" stroke-width="0.12" textLength="16" lengthAdjust="spacingAndGlyphs">125</text>
<line x1="585.6" y1="563.6" x2="590.2" y2="563.6" stroke="#000" stroke-width="1.6"/>
<text x="583.4" y="567.2" font-size="10.2" font-weight="bold" text-anchor="end" fill="#000" stroke="#000" stroke-width="0.12" textLength="16" lengthAdjust="spacingAndGlyphs">100</text>
<line x1="585.6" y1="585.325" x2="590.2" y2="585.325" stroke="#000" stroke-width="1.6"/>
<text x="583.4" y="588.9250000000001" font-size="10.2" font-weight="bold" text-anchor="end" fill="#000" stroke="#000" stroke-width="0.12" textLength="10.6" lengthAdjust="spacingAndGlyphs">75</text>
<line x1="608.3" y1="585.2" x2="608.3" y2="589.8" stroke="#000" stroke-width="1.6"/>
<text x="608.3" y="601.8" font-size="10.4" font-weight="bold" text-anchor="middle" fill="#000" stroke="#000" stroke-width="0.12" textLength="14.8" lengthAdjust="spacingAndGlyphs">Bsl</text>
<line x1="637.2" y1="585.2" x2="637.2" y2="589.8" stroke="#000" stroke-width="1.6"/>
<text x="637.2" y="601.8" font-size="10.4" font-weight="bold" text-anchor="middle" fill="#000" stroke="#000" stroke-width="0.12" textLength="5.3" lengthAdjust="spacingAndGlyphs">4</text>
<line x1="666.6" y1="585.2" x2="666.6" y2="589.8" stroke="#000" stroke-width="1.6"/>
<text x="666.6" y="601.8" font-size="10.4" font-weight="bold" text-anchor="middle" fill="#000" stroke="#000" stroke-width="0.12" textLength="11.2" lengthAdjust="spacingAndGlyphs">10</text>
<text x="567.2" y="601.8" font-size="10.4" font-weight="bold" text-anchor="middle" fill="#000" stroke="#000" stroke-width="0.12" textLength="35.4" lengthAdjust="spacingAndGlyphs">Cycle #</text>
<text x="559.4" y="529.8" font-size="10.2" font-weight="bold" text-anchor="middle" fill="#000" stroke="#000" stroke-width="0.12" textLength="97.8" lengthAdjust="spacingAndGlyphs" transform="rotate(-90 559.4 529.8)" xml:space="preserve">Fat  mass (% change)</text>
<line x1="666.6" y1="484.9" x2="666.6" y2="499.5" stroke="#ffb066" stroke-width="1"/>
<line x1="664.8" y1="484.9" x2="668.4" y2="484.9" stroke="#ffb066" stroke-width="1"/>
<polyline points="608.3,563.6 637.3,521.6 666.6,492.2" fill="none" stroke="#ffb066" stroke-width="1.2"/>
<polyline points="608.3,563.6 637.3,521.5 666.6,503.3" fill="none" stroke="#ff2a2a" stroke-width="1.3"/>
<polyline points="608.3,563.6 637.3,526.6 666.6,505.5" fill="none" stroke="#ff44ff" stroke-width="1.3"/>
<circle cx="666.6" cy="492.2" r="1.9" fill="#ffb066" stroke="none" stroke-width="0"/>
<line x1="666.6" y1="501" x2="666.6" y2="512.6" stroke="#ff2a2a" stroke-width="1.2"/>
<line x1="664.5" y1="512.6" x2="668.7" y2="512.6" stroke="#ff2a2a" stroke-width="1.3"/>
<line x1="664.5" y1="501" x2="668.7" y2="501" stroke="#ff2a2a" stroke-width="1.3"/>
<line x1="637.3" y1="519.6" x2="637.3" y2="523.5" stroke="#ff2a2a" stroke-width="1.2"/>
<line x1="635.2" y1="519.8" x2="639.4" y2="519.8" stroke="#ff2a2a" stroke-width="1.3"/>
<rect x="635.3" y="519.6" width="4" height="3.8" fill="#ff2a2a"/>
<rect x="635.3" y="524.6" width="4" height="4" fill="#ff44ff"/>
<rect x="664.6" y="503.3" width="4" height="4" fill="#ff44ff"/>
<circle cx="608.3" cy="563.6" r="1.5" fill="none" stroke="#e0201a" stroke-width="1"/>
</svg></body></html>
